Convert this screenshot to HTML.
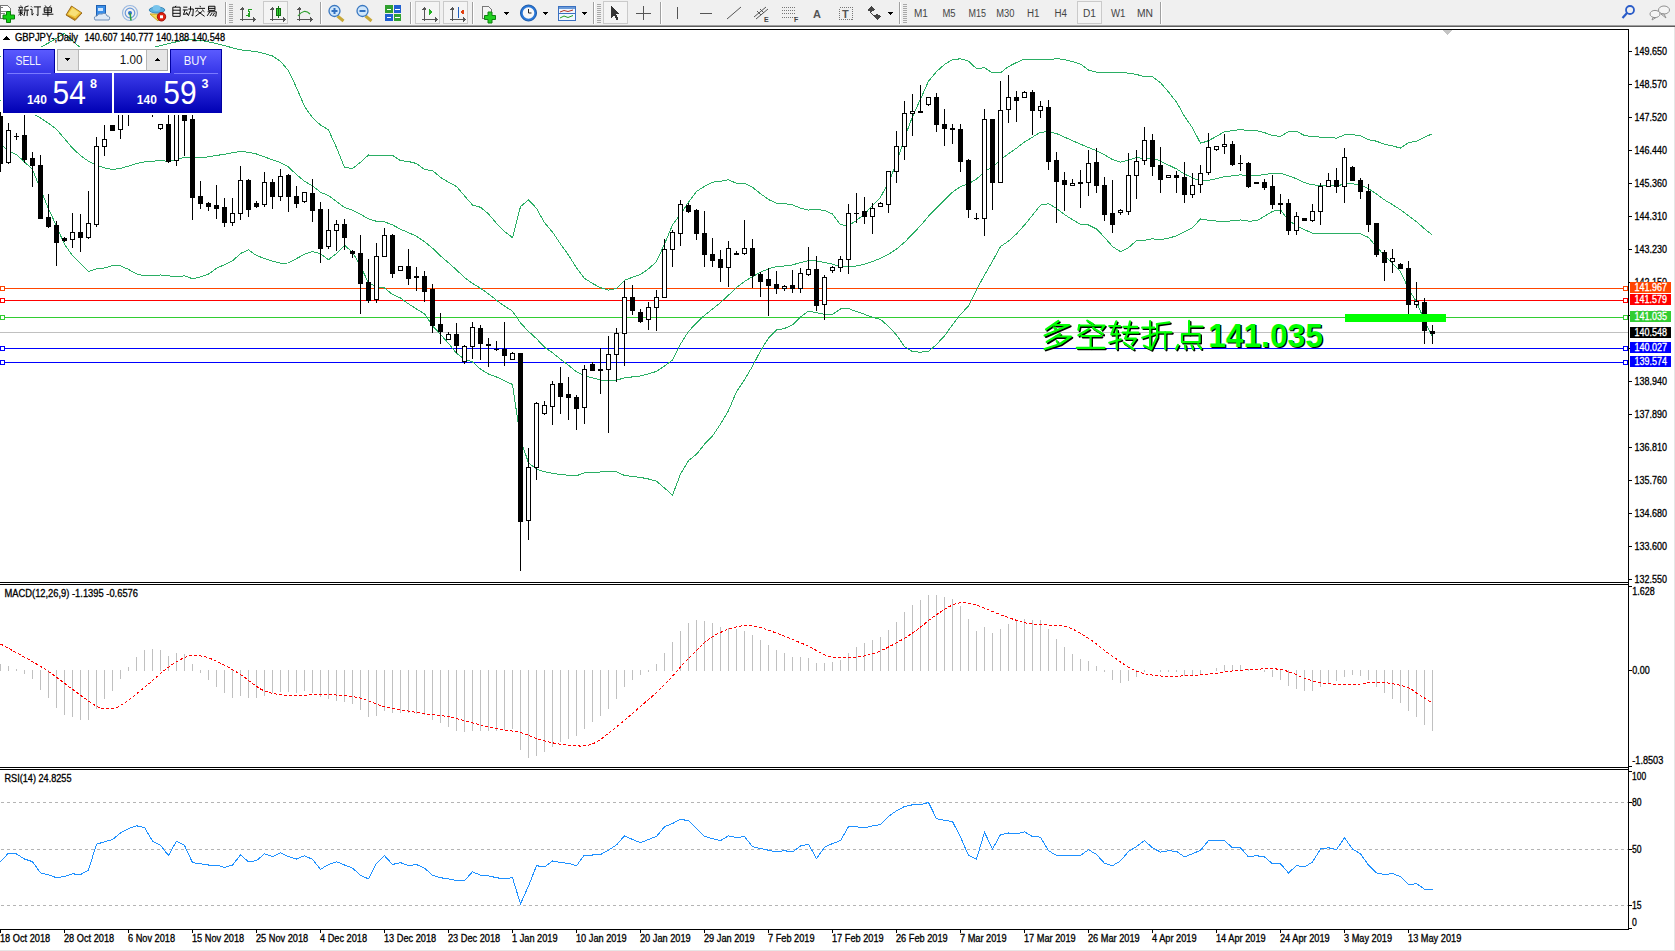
<!DOCTYPE html>
<html><head><meta charset="utf-8"><title>GBPJPY Daily</title>
<style>
html,body{margin:0;padding:0;background:#fff;}
body{width:1675px;height:951px;overflow:hidden;position:relative;font-family:"Liberation Sans",sans-serif;}
svg{position:absolute;left:0;top:0;}
text{font-family:"Liberation Sans",sans-serif;}
</style></head><body>
<svg width="1675" height="951" viewBox="0 0 1675 951" shape-rendering="crispEdges">
<rect x="0" y="0" width="1675" height="25" fill="#f0f0f0"/>
<rect x="0" y="25" width="1675" height="1" fill="#a0a0a0"/>
<rect x="0" y="26" width="1675" height="1" fill="#5c5c5c"/>
<polyline points="20.75,5.50 21.21,6.60" fill="none" stroke="#000" stroke-width="0.95" shape-rendering="geometricPrecision"/>
<polyline points="18.46,7.33 23.04,7.33" fill="none" stroke="#000" stroke-width="0.95" shape-rendering="geometricPrecision"/>
<polyline points="19.38,8.25 20.02,9.35" fill="none" stroke="#000" stroke-width="0.95" shape-rendering="geometricPrecision"/>
<polyline points="22.40,8.25 21.85,9.35" fill="none" stroke="#000" stroke-width="0.95" shape-rendering="geometricPrecision"/>
<polyline points="18.00,10.08 23.50,10.08" fill="none" stroke="#000" stroke-width="0.95" shape-rendering="geometricPrecision"/>
<polyline points="18.46,12.10 23.04,12.10" fill="none" stroke="#000" stroke-width="0.95" shape-rendering="geometricPrecision"/>
<polyline points="20.75,10.08 20.75,16.04" fill="none" stroke="#000" stroke-width="0.95" shape-rendering="geometricPrecision"/>
<polyline points="20.75,12.83 18.46,15.12" fill="none" stroke="#000" stroke-width="0.95" shape-rendering="geometricPrecision"/>
<polyline points="20.93,13.02 23.04,14.67" fill="none" stroke="#000" stroke-width="0.95" shape-rendering="geometricPrecision"/>
<polyline points="28.54,5.96 24.88,7.15" fill="none" stroke="#000" stroke-width="0.95" shape-rendering="geometricPrecision"/>
<polyline points="24.88,7.15 24.88,11.46 23.96,16.04" fill="none" stroke="#000" stroke-width="0.95" shape-rendering="geometricPrecision"/>
<polyline points="24.88,10.08 29.00,10.08" fill="none" stroke="#000" stroke-width="0.95" shape-rendering="geometricPrecision"/>
<polyline points="27.17,10.08 27.17,16.04" fill="none" stroke="#000" stroke-width="0.95" shape-rendering="geometricPrecision"/>
<polyline points="30.93,6.23 32.03,7.33" fill="none" stroke="#000" stroke-width="0.95" shape-rendering="geometricPrecision"/>
<polyline points="30.20,9.35 32.03,9.35 32.03,15.12 33.68,13.57" fill="none" stroke="#000" stroke-width="0.95" shape-rendering="geometricPrecision"/>
<polyline points="33.87,6.88 41.02,6.88" fill="none" stroke="#000" stroke-width="0.95" shape-rendering="geometricPrecision"/>
<polyline points="37.99,6.88 37.99,15.58 36.62,14.67" fill="none" stroke="#000" stroke-width="0.95" shape-rendering="geometricPrecision"/>
<polyline points="45.15,5.50 46.25,6.97" fill="none" stroke="#000" stroke-width="0.95" shape-rendering="geometricPrecision"/>
<polyline points="50.65,5.50 49.55,6.97" fill="none" stroke="#000" stroke-width="0.95" shape-rendering="geometricPrecision"/>
<polyline points="44.23,7.79 51.57,7.79 51.57,12.38 44.23,12.38 44.23,7.79" fill="none" stroke="#000" stroke-width="0.95" shape-rendering="geometricPrecision"/>
<polyline points="44.23,10.08 51.57,10.08" fill="none" stroke="#000" stroke-width="0.95" shape-rendering="geometricPrecision"/>
<polyline points="47.90,7.79 47.90,16.50" fill="none" stroke="#000" stroke-width="0.95" shape-rendering="geometricPrecision"/>
<polyline points="42.40,14.21 53.40,14.21" fill="none" stroke="#000" stroke-width="0.95" shape-rendering="geometricPrecision"/>
<polyline points="176.04,5.80 175.12,7.17" fill="none" stroke="#000" stroke-width="0.95" shape-rendering="geometricPrecision"/>
<polyline points="172.83,7.17 180.17,7.17 180.17,16.34 172.83,16.34 172.83,7.17" fill="none" stroke="#000" stroke-width="0.95" shape-rendering="geometricPrecision"/>
<polyline points="172.83,10.20 180.17,10.20" fill="none" stroke="#000" stroke-width="0.95" shape-rendering="geometricPrecision"/>
<polyline points="172.83,13.32 180.17,13.32" fill="none" stroke="#000" stroke-width="0.95" shape-rendering="geometricPrecision"/>
<polyline points="183.21,7.17 187.33,7.17" fill="none" stroke="#000" stroke-width="0.95" shape-rendering="geometricPrecision"/>
<polyline points="182.75,9.93 187.79,9.93" fill="none" stroke="#000" stroke-width="0.95" shape-rendering="geometricPrecision"/>
<polyline points="185.04,9.93 183.48,14.51 187.33,13.59" fill="none" stroke="#000" stroke-width="0.95" shape-rendering="geometricPrecision"/>
<polyline points="186.42,12.22 187.79,14.97" fill="none" stroke="#000" stroke-width="0.95" shape-rendering="geometricPrecision"/>
<polyline points="188.25,9.01 193.29,9.01 192.83,15.88 191.46,15.15" fill="none" stroke="#000" stroke-width="0.95" shape-rendering="geometricPrecision"/>
<polyline points="190.54,6.26 190.54,10.38 188.25,15.88" fill="none" stroke="#000" stroke-width="0.95" shape-rendering="geometricPrecision"/>
<polyline points="200.00,5.80 200.46,7.17" fill="none" stroke="#000" stroke-width="0.95" shape-rendering="geometricPrecision"/>
<polyline points="194.96,8.37 205.04,8.37" fill="none" stroke="#000" stroke-width="0.95" shape-rendering="geometricPrecision"/>
<polyline points="197.98,9.65 195.60,11.76" fill="none" stroke="#000" stroke-width="0.95" shape-rendering="geometricPrecision"/>
<polyline points="202.02,9.65 204.40,11.76" fill="none" stroke="#000" stroke-width="0.95" shape-rendering="geometricPrecision"/>
<polyline points="197.71,11.30 204.58,16.34" fill="none" stroke="#000" stroke-width="0.95" shape-rendering="geometricPrecision"/>
<polyline points="202.29,11.30 195.42,16.34" fill="none" stroke="#000" stroke-width="0.95" shape-rendering="geometricPrecision"/>
<polyline points="208.54,6.26 214.96,6.26 214.96,10.38 208.54,10.38 208.54,6.26" fill="none" stroke="#000" stroke-width="0.95" shape-rendering="geometricPrecision"/>
<polyline points="208.54,8.37 214.96,8.37" fill="none" stroke="#000" stroke-width="0.95" shape-rendering="geometricPrecision"/>
<polyline points="207.62,11.76 216.33,11.76 215.88,16.34 214.50,15.88" fill="none" stroke="#000" stroke-width="0.95" shape-rendering="geometricPrecision"/>
<polyline points="209.92,11.76 207.17,15.88" fill="none" stroke="#000" stroke-width="0.95" shape-rendering="geometricPrecision"/>
<polyline points="212.21,12.95 209.92,16.07" fill="none" stroke="#000" stroke-width="0.95" shape-rendering="geometricPrecision"/>
<polyline points="214.50,12.95 212.67,16.07" fill="none" stroke="#000" stroke-width="0.95" shape-rendering="geometricPrecision"/>
<path d="M0.5,5.5 H7.5 L10.5,8.5 V18.5 H0.5 Z" fill="#fff" stroke="#777"/>
<rect x="1" y="7" width="2" height="1" fill="#777"/><rect x="1" y="11" width="5" height="1" fill="#888"/><rect x="1" y="13" width="4" height="1" fill="#888"/>
<path d="M6.5,11.5 H10.5 V15 H14.5 V19 H10.5 V22.5 H6.5 V19 H3 V15 H6.5 Z" fill="#12d012" stroke="#0a7a0a" shape-rendering="geometricPrecision"/>
<g shape-rendering="geometricPrecision"><path d="M66,15 L71.5,6 L82,13 L75,20.5 Z" fill="#c88a18" stroke="#8a5a08" stroke-width="0.8"/><path d="M67,14.5 L72,6.8 L81,12.8 L75.5,18.5 Z" fill="#f0c840"/><path d="M68.5,14 L72.5,8 L79,12.5 L75,16.5 Z" fill="#f8e078"/></g>
<rect x="96" y="5" width="9" height="10" fill="#3a8ee8" stroke="#2060b0"/><rect x="98" y="8" width="5" height="3" fill="#cfe6ff"/>
<path d="M95,20 Q93,16 97,16 Q98,13 102,14 Q106,12 107,16 Q111,16 109,20 Z" fill="#dfe9f5" stroke="#6f8fb8" shape-rendering="geometricPrecision"/>
<g fill="none" shape-rendering="geometricPrecision"><circle cx="130" cy="13" r="7.5" stroke="#9ab8e0" stroke-width="1.2"/><circle cx="130" cy="13" r="4.8" stroke="#6a98d8" stroke-width="1.2"/><circle cx="130" cy="13" r="2" fill="#3070d0"/><path d="M130,13 L131,20.5" stroke="#2aa040" stroke-width="1.6"/></g>
<g shape-rendering="geometricPrecision"><path d="M150,14 L158,21 L163,14 Z" fill="#f2dd58" stroke="#c8a020"/><ellipse cx="157" cy="10" rx="7.8" ry="3" fill="#5ab0e0" stroke="#3a88b8"/><ellipse cx="156.5" cy="8" rx="4" ry="3" fill="#78c4ec"/><circle cx="161.5" cy="16.8" r="4.2" fill="#e02010" stroke="#a01008"/><rect x="160" y="15.3" width="3" height="3" fill="#fff"/></g>
<rect x="225" y="2" width="1" height="22" fill="#a0a0a0"/><rect x="226" y="2" width="1" height="22" fill="#ffffff"/>
<rect x="229" y="4" width="4" height="1" fill="#a8a8a8"/><rect x="229" y="6" width="4" height="1" fill="#a8a8a8"/><rect x="229" y="8" width="4" height="1" fill="#a8a8a8"/><rect x="229" y="10" width="4" height="1" fill="#a8a8a8"/><rect x="229" y="12" width="4" height="1" fill="#a8a8a8"/><rect x="229" y="14" width="4" height="1" fill="#a8a8a8"/><rect x="229" y="16" width="4" height="1" fill="#a8a8a8"/><rect x="229" y="18" width="4" height="1" fill="#a8a8a8"/><rect x="229" y="20" width="4" height="1" fill="#a8a8a8"/><rect x="229" y="22" width="4" height="1" fill="#a8a8a8"/>
<g fill="#555"><rect x="242" y="8" width="1" height="13"/><rect x="240" y="19" width="14" height="1"/><path d="M240.5,9.5 L242.5,7 L244.5,9.5 Z"/><path d="M253,17 L255.5,19.5 L253,22 Z"/></g>
<g fill="#20a020"><rect x="248" y="13" width="1" height="4"/><rect x="248" y="9" width="1" height="3"/><rect x="249" y="9" width="3" height="1"/><rect x="246" y="15" width="2" height="1"/><rect x="249" y="11" width="1" height="6"/></g>
<rect x="263.5" y="1.5" width="24" height="22" fill="#f4f4f4" stroke="#cacaca"/>
<g fill="#555"><rect x="272" y="8" width="1" height="13"/><rect x="270" y="19" width="14" height="1"/><path d="M270.5,9.5 L272.5,7 L274.5,9.5 Z"/><path d="M283,17 L285.5,19.5 L283,22 Z"/></g>
<rect x="276.5" y="8.5" width="4" height="7" fill="#30d030" stroke="#107010"/><rect x="278" y="6" width="1" height="12" fill="#107010"/>
<g fill="#555"><rect x="299" y="8" width="1" height="13"/><rect x="297" y="19" width="14" height="1"/><path d="M297.5,9.5 L299.5,7 L301.5,9.5 Z"/><path d="M310,17 L312.5,19.5 L310,22 Z"/></g>
<path d="M298,16 Q304,8 310,14" fill="none" stroke="#30a030" stroke-width="1.2" shape-rendering="geometricPrecision"/>
<rect x="320" y="2" width="1" height="22" fill="#a0a0a0"/><rect x="321" y="2" width="1" height="22" fill="#ffffff"/>
<g shape-rendering="geometricPrecision"><path d="M337.5,16 L343.5,21" stroke="#c8a838" stroke-width="3"/><circle cx="334.5" cy="11" r="5.5" fill="#cfe6fb" stroke="#3a78c0" stroke-width="1.3"/><rect x="331.5" y="10" width="6" height="2" fill="#3070c0"/><rect x="333.5" y="8" width="2" height="6" fill="#3070c0"/></g>
<g shape-rendering="geometricPrecision"><path d="M365.5,16 L371.5,21" stroke="#c8a838" stroke-width="3"/><circle cx="362.5" cy="11" r="5.5" fill="#cfe6fb" stroke="#3a78c0" stroke-width="1.3"/><rect x="359.5" y="10" width="6" height="2" fill="#3070c0"/></g>
<rect x="385" y="5" width="7.5" height="7.5" fill="#30a030"/><rect x="393.5" y="5" width="7.5" height="7.5" fill="#2060d0"/><rect x="385" y="13.5" width="7.5" height="7.5" fill="#2060d0"/><rect x="393.5" y="13.5" width="7.5" height="7.5" fill="#30a030"/>
<g fill="#fff"><rect x="386.5" y="9" width="4.5" height="1"/><rect x="395" y="9" width="4.5" height="1"/><rect x="386.5" y="17" width="4.5" height="1"/><rect x="395" y="17" width="4.5" height="1"/></g>
<rect x="410" y="2" width="1" height="22" fill="#a0a0a0"/><rect x="411" y="2" width="1" height="22" fill="#ffffff"/>
<rect x="415.5" y="1.5" width="24" height="22" fill="#f4f4f4" stroke="#cacaca"/>
<g fill="#555"><rect x="424" y="8" width="1" height="13"/><rect x="422" y="19" width="14" height="1"/><path d="M422.5,9.5 L424.5,7 L426.5,9.5 Z"/><path d="M435,17 L437.5,19.5 L435,22 Z"/></g>
<path d="M429,9 L433,12 L429,15 Z" fill="#20b020"/>
<rect x="443.5" y="1.5" width="24" height="22" fill="#f4f4f4" stroke="#cacaca"/>
<g fill="#555"><rect x="452" y="8" width="1" height="13"/><rect x="450" y="19" width="14" height="1"/><path d="M450.5,9.5 L452.5,7 L454.5,9.5 Z"/><path d="M463,17 L465.5,19.5 L463,22 Z"/></g>
<rect x="458" y="7" width="1" height="11" fill="#2060c0"/><path d="M460,12 L464,9.5 L464,14.5 Z" fill="#e04010"/>
<rect x="472" y="2" width="1" height="22" fill="#a0a0a0"/><rect x="473" y="2" width="1" height="22" fill="#ffffff"/>
<path d="M482.5,6.5 H488.5 L491.5,9.5 V18.5 H482.5 Z" fill="#f4f4f4" stroke="#777"/>
<path d="M488,12 H492 V15.5 H495.5 V19.5 H492 V23 H488 V19.5 H484.5 V15.5 H488 Z" fill="#20d020" stroke="#108010" shape-rendering="geometricPrecision"/>
<path d="M503.5,12 L509.5,12 L506.5,15 Z" fill="#000"/>
<g shape-rendering="geometricPrecision"><circle cx="528.5" cy="13" r="8" fill="#2a78d8" stroke="#1a58a8"/><circle cx="528.5" cy="13" r="5.8" fill="#f8f8f8"/><path d="M528.5,9 V13 H531.5" stroke="#222" fill="none"/></g>
<path d="M542.5,12 L548.5,12 L545.5,15 Z" fill="#000"/>
<rect x="558.5" y="6.5" width="17" height="14" fill="#f0f6ff" stroke="#3a70c0"/><rect x="559" y="7" width="16" height="2" fill="#6a9ad8"/><rect x="559" y="13" width="16" height="1" fill="#3a70c0"/>
<path d="M560,12 L564,10.5 L568,11.5 L573,10" stroke="#b03020" fill="none" shape-rendering="geometricPrecision"/><path d="M560,18 L564,16 L568,17.5 L573,15.5" stroke="#20a020" fill="none" shape-rendering="geometricPrecision"/>
<path d="M581.5,12 L587.5,12 L584.5,15 Z" fill="#000"/>
<rect x="593" y="2" width="1" height="22" fill="#a0a0a0"/><rect x="594" y="2" width="1" height="22" fill="#ffffff"/>
<rect x="597" y="4" width="4" height="1" fill="#a8a8a8"/><rect x="597" y="6" width="4" height="1" fill="#a8a8a8"/><rect x="597" y="8" width="4" height="1" fill="#a8a8a8"/><rect x="597" y="10" width="4" height="1" fill="#a8a8a8"/><rect x="597" y="12" width="4" height="1" fill="#a8a8a8"/><rect x="597" y="14" width="4" height="1" fill="#a8a8a8"/><rect x="597" y="16" width="4" height="1" fill="#a8a8a8"/><rect x="597" y="18" width="4" height="1" fill="#a8a8a8"/><rect x="597" y="20" width="4" height="1" fill="#a8a8a8"/><rect x="597" y="22" width="4" height="1" fill="#a8a8a8"/>
<rect x="603.5" y="1.5" width="24" height="22" fill="#f4f4f4" stroke="#cacaca"/>
<path d="M611,6 L611,18 L614,15 L616.5,20 L618.5,19 L616,14 L620,14 Z" fill="#333"/>
<rect x="643" y="6" width="1" height="14" fill="#555"/><rect x="636" y="13" width="15" height="1" fill="#555"/>
<rect x="660" y="2" width="1" height="22" fill="#a0a0a0"/><rect x="661" y="2" width="1" height="22" fill="#ffffff"/>
<rect x="677" y="7" width="1" height="12" fill="#555"/>
<rect x="700" y="13" width="12" height="1" fill="#555"/>
<path d="M727,19 L741,7" stroke="#555" shape-rendering="geometricPrecision"/>
<g stroke="#555" shape-rendering="geometricPrecision" fill="none"><path d="M754,17 L766,7"/><path d="M756,19 L768,9"/><path d="M757,11 L761,15 M760,9 L764,13"/></g><text x="764" y="22" font-size="7" font-weight="bold" fill="#444">E</text>
<g fill="#777"><rect x="782" y="7" width="1" height="1"/><rect x="784" y="7" width="1" height="1"/><rect x="786" y="7" width="1" height="1"/><rect x="788" y="7" width="1" height="1"/><rect x="790" y="7" width="1" height="1"/><rect x="792" y="7" width="1" height="1"/><rect x="794" y="7" width="1" height="1"/><rect x="782" y="10" width="1" height="1"/><rect x="784" y="10" width="1" height="1"/><rect x="786" y="10" width="1" height="1"/><rect x="788" y="10" width="1" height="1"/><rect x="790" y="10" width="1" height="1"/><rect x="792" y="10" width="1" height="1"/><rect x="794" y="10" width="1" height="1"/><rect x="782" y="13" width="1" height="1"/><rect x="784" y="13" width="1" height="1"/><rect x="786" y="13" width="1" height="1"/><rect x="788" y="13" width="1" height="1"/><rect x="790" y="13" width="1" height="1"/><rect x="792" y="13" width="1" height="1"/><rect x="794" y="13" width="1" height="1"/><rect x="782" y="17" width="1" height="1"/><rect x="784" y="17" width="1" height="1"/><rect x="786" y="17" width="1" height="1"/><rect x="788" y="17" width="1" height="1"/><rect x="790" y="17" width="1" height="1"/><rect x="792" y="17" width="1" height="1"/><rect x="794" y="17" width="1" height="1"/></g><text x="794" y="22" font-size="7" font-weight="bold" fill="#444">F</text>
<text x="813" y="18" font-size="11" font-weight="bold" fill="#555">A</text>
<rect x="839.5" y="7.5" width="13" height="12" fill="none" stroke="#777" stroke-dasharray="1,1"/><text x="842" y="18" font-size="11" font-weight="bold" fill="#555">T</text>
<path d="M867,10 L871,6 L875,10 L871,12 Z M873,16 L877,20 L881,16 L877,14 Z" fill="#444"/><path d="M870,12 L874,16" stroke="#444"/>
<path d="M887,12 L893,12 L890,15 Z" fill="#000"/>
<rect x="899" y="2" width="1" height="22" fill="#a0a0a0"/><rect x="900" y="2" width="1" height="22" fill="#ffffff"/>
<rect x="903" y="4" width="4" height="1" fill="#a8a8a8"/><rect x="903" y="6" width="4" height="1" fill="#a8a8a8"/><rect x="903" y="8" width="4" height="1" fill="#a8a8a8"/><rect x="903" y="10" width="4" height="1" fill="#a8a8a8"/><rect x="903" y="12" width="4" height="1" fill="#a8a8a8"/><rect x="903" y="14" width="4" height="1" fill="#a8a8a8"/><rect x="903" y="16" width="4" height="1" fill="#a8a8a8"/><rect x="903" y="18" width="4" height="1" fill="#a8a8a8"/><rect x="903" y="20" width="4" height="1" fill="#a8a8a8"/><rect x="903" y="22" width="4" height="1" fill="#a8a8a8"/>
<rect x="1077.5" y="1.5" width="24" height="22" fill="#f4f4f4" stroke="#cacaca"/>
<text x="914" y="17" font-size="10" fill="#444" textLength="13.9" lengthAdjust="spacingAndGlyphs">M1</text>
<text x="942.4" y="17" font-size="10" fill="#444" textLength="13.1" lengthAdjust="spacingAndGlyphs">M5</text>
<text x="968.5" y="17" font-size="10" fill="#444" textLength="17.5" lengthAdjust="spacingAndGlyphs">M15</text>
<text x="996.3" y="17" font-size="10" fill="#444" textLength="18.1" lengthAdjust="spacingAndGlyphs">M30</text>
<text x="1027" y="17" font-size="10" fill="#444" textLength="12.5" lengthAdjust="spacingAndGlyphs">H1</text>
<text x="1054.5" y="17" font-size="10" fill="#444" textLength="12.5" lengthAdjust="spacingAndGlyphs">H4</text>
<text x="1083" y="17" font-size="10" fill="#444" textLength="13" lengthAdjust="spacingAndGlyphs">D1</text>
<text x="1111" y="17" font-size="10" fill="#444" textLength="14.5" lengthAdjust="spacingAndGlyphs">W1</text>
<text x="1137" y="17" font-size="10" fill="#444" textLength="16" lengthAdjust="spacingAndGlyphs">MN</text>
<rect x="1160" y="2" width="1" height="22" fill="#a0a0a0"/><rect x="1161" y="2" width="1" height="22" fill="#ffffff"/>
<g shape-rendering="geometricPrecision"><circle cx="1630" cy="10" r="4" fill="none" stroke="#2a5cc8" stroke-width="1.8"/><path d="M1627,13 L1622.5,18" stroke="#2a5cc8" stroke-width="2.2"/></g>
<g shape-rendering="geometricPrecision" fill="#f4f4f4" stroke="#909090"><ellipse cx="1664" cy="10" rx="5.5" ry="4"/><path d="M1664,14 L1666,18 L1661,14 Z"/><ellipse cx="1655" cy="14" rx="5" ry="3.6"/><path d="M1653,17.5 L1652,20 L1656,17.5 Z"/></g>
<rect x="1674" y="27" width="1" height="924" fill="#e6e6e6"/>
<rect x="0" y="950" width="1675" height="1" fill="#e6e6e6"/>
<rect x="0" y="29" width="1629" height="1" fill="#000"/>
<rect x="0" y="582" width="1629" height="1" fill="#000"/>
<rect x="0" y="584" width="1629" height="1" fill="#000"/>
<rect x="0" y="767" width="1629" height="1" fill="#000"/>
<rect x="0" y="769" width="1629" height="1" fill="#000"/>
<rect x="0" y="929" width="1629" height="1" fill="#000"/>
<rect x="1628" y="29" width="1" height="901" fill="#000"/>
<rect x="1629" y="51" width="3" height="1" fill="#000"/>
<text x="1634.5" y="55" font-size="10" fill="#000" stroke="#000" stroke-width="0.3" font-weight="normal" text-anchor="start" textLength="32.4" lengthAdjust="spacingAndGlyphs" >149.650</text>
<rect x="1629" y="84" width="3" height="1" fill="#000"/>
<text x="1634.5" y="88" font-size="10" fill="#000" stroke="#000" stroke-width="0.3" font-weight="normal" text-anchor="start" textLength="32.4" lengthAdjust="spacingAndGlyphs" >148.570</text>
<rect x="1629" y="117" width="3" height="1" fill="#000"/>
<text x="1634.5" y="121" font-size="10" fill="#000" stroke="#000" stroke-width="0.3" font-weight="normal" text-anchor="start" textLength="32.4" lengthAdjust="spacingAndGlyphs" >147.520</text>
<rect x="1629" y="150" width="3" height="1" fill="#000"/>
<text x="1634.5" y="154" font-size="10" fill="#000" stroke="#000" stroke-width="0.3" font-weight="normal" text-anchor="start" textLength="32.4" lengthAdjust="spacingAndGlyphs" >146.440</text>
<rect x="1629" y="183" width="3" height="1" fill="#000"/>
<text x="1634.5" y="187" font-size="10" fill="#000" stroke="#000" stroke-width="0.3" font-weight="normal" text-anchor="start" textLength="32.4" lengthAdjust="spacingAndGlyphs" >145.360</text>
<rect x="1629" y="216" width="3" height="1" fill="#000"/>
<text x="1634.5" y="220" font-size="10" fill="#000" stroke="#000" stroke-width="0.3" font-weight="normal" text-anchor="start" textLength="32.4" lengthAdjust="spacingAndGlyphs" >144.310</text>
<rect x="1629" y="249" width="3" height="1" fill="#000"/>
<text x="1634.5" y="253" font-size="10" fill="#000" stroke="#000" stroke-width="0.3" font-weight="normal" text-anchor="start" textLength="32.4" lengthAdjust="spacingAndGlyphs" >143.230</text>
<rect x="1629" y="282" width="3" height="1" fill="#000"/>
<text x="1634.5" y="286" font-size="10" fill="#000" stroke="#000" stroke-width="0.3" font-weight="normal" text-anchor="start" textLength="32.4" lengthAdjust="spacingAndGlyphs" >142.150</text>
<rect x="1629" y="315" width="3" height="1" fill="#000"/>
<text x="1634.5" y="319" font-size="10" fill="#000" stroke="#000" stroke-width="0.3" font-weight="normal" text-anchor="start" textLength="32.4" lengthAdjust="spacingAndGlyphs" >141.070</text>
<rect x="1629" y="348" width="3" height="1" fill="#000"/>
<text x="1634.5" y="352" font-size="10" fill="#000" stroke="#000" stroke-width="0.3" font-weight="normal" text-anchor="start" textLength="32.4" lengthAdjust="spacingAndGlyphs" >140.020</text>
<rect x="1629" y="381" width="3" height="1" fill="#000"/>
<text x="1634.5" y="385" font-size="10" fill="#000" stroke="#000" stroke-width="0.3" font-weight="normal" text-anchor="start" textLength="32.4" lengthAdjust="spacingAndGlyphs" >138.940</text>
<rect x="1629" y="414" width="3" height="1" fill="#000"/>
<text x="1634.5" y="418" font-size="10" fill="#000" stroke="#000" stroke-width="0.3" font-weight="normal" text-anchor="start" textLength="32.4" lengthAdjust="spacingAndGlyphs" >137.890</text>
<rect x="1629" y="447" width="3" height="1" fill="#000"/>
<text x="1634.5" y="451" font-size="10" fill="#000" stroke="#000" stroke-width="0.3" font-weight="normal" text-anchor="start" textLength="32.4" lengthAdjust="spacingAndGlyphs" >136.810</text>
<rect x="1629" y="480" width="3" height="1" fill="#000"/>
<text x="1634.5" y="484" font-size="10" fill="#000" stroke="#000" stroke-width="0.3" font-weight="normal" text-anchor="start" textLength="32.4" lengthAdjust="spacingAndGlyphs" >135.760</text>
<rect x="1629" y="513" width="3" height="1" fill="#000"/>
<text x="1634.5" y="517" font-size="10" fill="#000" stroke="#000" stroke-width="0.3" font-weight="normal" text-anchor="start" textLength="32.4" lengthAdjust="spacingAndGlyphs" >134.680</text>
<rect x="1629" y="546" width="3" height="1" fill="#000"/>
<text x="1634.5" y="550" font-size="10" fill="#000" stroke="#000" stroke-width="0.3" font-weight="normal" text-anchor="start" textLength="32.4" lengthAdjust="spacingAndGlyphs" >133.600</text>
<rect x="1629" y="579" width="3" height="1" fill="#000"/>
<text x="1634.5" y="583" font-size="10" fill="#000" stroke="#000" stroke-width="0.3" font-weight="normal" text-anchor="start" textLength="32.4" lengthAdjust="spacingAndGlyphs" >132.550</text>
<defs><clipPath id="cm"><rect x="0" y="30" width="1628" height="552"/></clipPath><clipPath id="cmacd"><rect x="0" y="585" width="1628" height="182"/></clipPath><clipPath id="crsi"><rect x="0" y="770" width="1628" height="159"/></clipPath></defs>
<g clip-path="url(#cm)">
<rect x="0" y="332" width="1628" height="1" fill="#c0c0c0"/>
<rect x="0" y="288" width="1628" height="1" fill="#ff4500"/>
<rect x="1623.5" y="286.5" width="4" height="4" fill="#fff" stroke="#ff4500" stroke-width="1"/>
<rect x="0.5" y="286.5" width="4" height="4" fill="#fff" stroke="#ff4500" stroke-width="1"/>
<rect x="0" y="300" width="1628" height="1" fill="#ff0000"/>
<rect x="1623.5" y="298.5" width="4" height="4" fill="#fff" stroke="#ff0000" stroke-width="1"/>
<rect x="0.5" y="298.5" width="4" height="4" fill="#fff" stroke="#ff0000" stroke-width="1"/>
<rect x="0" y="317" width="1628" height="1" fill="#32cd32"/>
<rect x="1623.5" y="315.5" width="4" height="4" fill="#fff" stroke="#32cd32" stroke-width="1"/>
<rect x="0.5" y="315.5" width="4" height="4" fill="#fff" stroke="#32cd32" stroke-width="1"/>
<rect x="0" y="348" width="1628" height="1" fill="#0000ff"/>
<rect x="1623.5" y="346.5" width="4" height="4" fill="#fff" stroke="#0000ff" stroke-width="1"/>
<rect x="0.5" y="346.5" width="4" height="4" fill="#fff" stroke="#0000ff" stroke-width="1"/>
<rect x="0" y="362" width="1628" height="1" fill="#0000ff"/>
<rect x="1623.5" y="360.5" width="4" height="4" fill="#fff" stroke="#0000ff" stroke-width="1"/>
<rect x="0.5" y="360.5" width="4" height="4" fill="#fff" stroke="#0000ff" stroke-width="1"/>
<polyline points="0.5,56.5 8.5,54.7 16.5,52.8 24.5,51.0 32.5,49.2 40.5,47.3 48.5,43.0 56.5,38.2 64.5,33.5 72.5,40.8 80.5,47.8 88.5,53.7 96.5,59.6 104.5,62.5 112.5,62.5 120.5,62.5 128.5,62.5 136.5,58.5 144.5,53.1 152.5,47.8 160.5,45.5 168.5,43.6 176.5,41.8 184.5,40.0 192.5,39.8 200.5,40.3 208.5,41.9 216.5,43.6 224.5,45.7 232.5,47.8 240.5,49.9 248.5,50.7 256.5,51.6 264.5,53.6 272.5,55.9 280.5,61.4 288.5,70.6 296.5,87.7 304.5,106.4 312.5,117.7 320.5,125.0 328.5,129.9 336.5,147.5 344.5,167.5 352.5,168.5 360.5,162.3 368.5,155.0 376.5,155.6 384.5,155.9 392.5,155.4 400.5,160.6 408.5,161.5 416.5,163.5 424.5,169.6 432.5,170.5 440.5,177.4 448.5,182.2 456.5,186.5 464.5,195.8 472.5,205.0 480.5,207.3 488.5,213.9 496.5,223.4 504.5,231.4 512.5,237.7 520.5,206.7 528.5,199.8 536.5,208.3 544.5,222.7 552.5,232.1 560.5,244.0 568.5,255.1 576.5,267.8 584.5,278.4 592.5,283.4 600.5,287.7 608.5,290.2 616.5,288.6 624.5,280.2 632.5,277.3 640.5,274.3 648.5,268.9 656.5,261.5 664.5,244.1 672.5,224.9 680.5,214.2 688.5,202.1 696.5,191.4 704.5,186.4 712.5,182.2 720.5,181.2 728.5,179.8 736.5,183.3 744.5,183.1 752.5,187.3 760.5,193.7 768.5,199.5 776.5,203.2 784.5,203.5 792.5,204.9 800.5,208.1 808.5,210.1 816.5,209.3 824.5,210.5 832.5,214.0 840.5,224.8 848.5,225.4 856.5,220.5 864.5,213.9 872.5,205.7 880.5,197.2 888.5,182.6 896.5,163.1 904.5,138.0 912.5,116.6 920.5,99.1 928.5,81.2 936.5,71.6 944.5,64.5 952.5,59.6 960.5,58.8 968.5,61.1 976.5,68.7 984.5,67.7 992.5,73.0 1000.5,72.7 1008.5,66.6 1016.5,62.5 1024.5,59.0 1032.5,59.0 1040.5,59.4 1048.5,59.8 1056.5,58.6 1064.5,59.6 1072.5,61.6 1080.5,64.1 1088.5,70.0 1096.5,72.1 1104.5,72.4 1112.5,72.7 1120.5,72.4 1128.5,73.1 1136.5,74.4 1144.5,76.9 1152.5,76.7 1160.5,82.7 1168.5,92.0 1176.5,102.1 1184.5,116.3 1192.5,127.9 1200.5,143.3 1208.5,140.7 1216.5,136.3 1224.5,131.8 1232.5,130.7 1240.5,129.5 1248.5,130.7 1256.5,130.7 1264.5,132.6 1272.5,135.6 1280.5,136.4 1288.5,131.5 1296.5,131.4 1304.5,135.5 1312.5,136.7 1320.5,137.1 1328.5,137.5 1336.5,138.1 1344.5,134.9 1352.5,134.6 1360.5,135.7 1368.5,139.7 1376.5,141.2 1384.5,144.3 1392.5,145.9 1400.5,148.1 1408.5,142.6 1416.5,141.2 1424.5,137.1 1432.5,133.7" fill="none" stroke="#2aae64" stroke-width="1" shape-rendering="crispEdges"/>
<polyline points="0.5,100.5 8.5,103.8 16.5,107.1 24.5,110.4 32.5,113.6 40.5,118.0 48.5,123.3 56.5,129.3 64.5,138.7 72.5,148.1 80.5,155.6 88.5,161.3 96.5,165.3 104.5,167.9 112.5,169.6 120.5,168.3 128.5,166.2 136.5,163.5 144.5,162.0 152.5,161.3 160.5,160.5 168.5,161.5 176.5,159.3 184.5,157.4 192.5,157.9 200.5,158.0 208.5,156.8 216.5,155.5 224.5,154.2 232.5,152.8 240.5,151.4 248.5,152.3 256.5,154.0 264.5,156.9 272.5,159.9 280.5,162.6 288.5,166.9 296.5,174.7 304.5,181.2 312.5,185.9 320.5,192.2 328.5,195.6 336.5,201.6 344.5,207.4 352.5,210.2 360.5,214.2 368.5,218.9 376.5,221.3 384.5,221.9 392.5,224.9 400.5,229.2 408.5,232.7 416.5,236.2 424.5,241.7 432.5,248.2 440.5,255.9 448.5,262.8 456.5,269.9 464.5,277.6 472.5,283.4 480.5,288.2 488.5,293.9 496.5,300.2 504.5,306.1 512.5,311.1 520.5,323.0 528.5,331.4 536.5,338.7 544.5,347.2 552.5,352.8 560.5,359.2 568.5,365.2 576.5,371.8 584.5,375.6 592.5,377.9 600.5,379.9 608.5,380.9 616.5,380.2 624.5,377.8 632.5,376.9 640.5,375.9 648.5,373.9 656.5,371.4 664.5,366.1 672.5,360.0 680.5,344.1 688.5,331.4 696.5,322.9 704.5,315.3 712.5,309.1 720.5,302.6 728.5,295.2 736.5,287.5 744.5,281.4 752.5,276.7 760.5,272.2 768.5,268.8 776.5,266.6 784.5,266.0 792.5,264.9 800.5,262.5 808.5,260.6 816.5,261.0 824.5,262.4 832.5,264.1 840.5,266.9 848.5,267.0 856.5,266.0 864.5,264.1 872.5,261.5 880.5,258.3 888.5,254.4 896.5,249.1 904.5,242.3 912.5,234.1 920.5,225.7 928.5,216.2 936.5,208.1 944.5,200.2 952.5,192.2 960.5,186.6 968.5,183.6 976.5,179.2 984.5,171.3 992.5,167.1 1000.5,159.7 1008.5,153.8 1016.5,148.2 1024.5,142.0 1032.5,137.1 1040.5,132.2 1048.5,131.8 1056.5,133.5 1064.5,137.1 1072.5,140.7 1080.5,144.2 1088.5,147.5 1096.5,150.6 1104.5,154.8 1112.5,159.6 1120.5,162.1 1128.5,160.3 1136.5,157.5 1144.5,158.6 1152.5,157.8 1160.5,161.2 1168.5,165.1 1176.5,168.9 1184.5,174.1 1192.5,177.8 1200.5,181.2 1208.5,180.4 1216.5,178.7 1224.5,176.7 1232.5,175.8 1240.5,174.8 1248.5,175.9 1256.5,175.8 1264.5,174.4 1272.5,173.4 1280.5,173.2 1288.5,175.9 1296.5,178.7 1304.5,182.7 1312.5,184.9 1320.5,185.2 1328.5,185.5 1336.5,185.9 1344.5,184.1 1352.5,183.8 1360.5,184.8 1368.5,188.6 1376.5,194.0 1384.5,199.9 1392.5,204.6 1400.5,209.8 1408.5,215.8 1416.5,221.7 1424.5,228.8 1432.5,235.2" fill="none" stroke="#2aae64" stroke-width="1" shape-rendering="crispEdges"/>
<polyline points="0.5,144.5 8.5,150.6 16.5,154.6 24.5,161.9 32.5,169.5 40.5,189.4 48.5,208.6 56.5,226.2 64.5,244.4 72.5,255.5 80.5,263.5 88.5,271.4 96.5,268.9 104.5,268.0 112.5,265.5 120.5,265.8 128.5,269.4 136.5,273.9 144.5,275.9 152.5,275.9 160.5,275.0 168.5,275.8 176.5,276.7 184.5,275.9 192.5,278.7 200.5,277.0 208.5,274.1 216.5,268.3 224.5,264.6 232.5,260.9 240.5,253.5 248.5,249.8 256.5,255.6 264.5,258.4 272.5,261.3 280.5,263.1 288.5,263.0 296.5,258.6 304.5,254.2 312.5,251.6 320.5,253.8 328.5,259.7 336.5,253.4 344.5,245.3 352.5,252.2 360.5,266.1 368.5,282.8 376.5,287.0 384.5,288.0 392.5,294.5 400.5,297.9 408.5,303.9 416.5,309.0 424.5,313.8 432.5,325.8 440.5,334.4 448.5,343.4 456.5,353.3 464.5,359.4 472.5,361.9 480.5,369.1 488.5,374.0 496.5,377.0 504.5,380.8 512.5,384.5 520.5,439.3 528.5,462.9 536.5,469.1 544.5,471.7 552.5,473.4 560.5,474.5 568.5,475.3 576.5,475.7 584.5,472.9 592.5,472.4 600.5,472.0 608.5,471.5 616.5,471.9 624.5,475.4 632.5,476.6 640.5,477.4 648.5,479.0 656.5,481.2 664.5,488.0 672.5,495.1 680.5,474.1 688.5,460.6 696.5,454.3 704.5,444.2 712.5,436.0 720.5,424.1 728.5,410.6 736.5,391.7 744.5,379.8 752.5,366.1 760.5,350.8 768.5,338.1 776.5,329.9 784.5,328.5 792.5,324.9 800.5,316.9 808.5,311.1 816.5,312.7 824.5,314.3 832.5,314.3 840.5,309.0 848.5,308.6 856.5,311.5 864.5,314.3 872.5,317.3 880.5,319.4 888.5,326.3 896.5,335.0 904.5,346.6 912.5,351.6 920.5,352.2 928.5,351.3 936.5,344.5 944.5,335.8 952.5,324.8 960.5,314.4 968.5,306.1 976.5,289.8 984.5,275.0 992.5,261.2 1000.5,246.6 1008.5,241.1 1016.5,233.9 1024.5,225.0 1032.5,215.2 1040.5,205.1 1048.5,203.7 1056.5,208.4 1064.5,214.5 1072.5,219.7 1080.5,224.3 1088.5,225.0 1096.5,229.0 1104.5,237.3 1112.5,246.5 1120.5,251.7 1128.5,247.6 1136.5,240.6 1144.5,240.2 1152.5,238.8 1160.5,239.7 1168.5,238.2 1176.5,235.8 1184.5,231.8 1192.5,227.7 1200.5,219.0 1208.5,220.2 1216.5,221.1 1224.5,221.6 1232.5,220.8 1240.5,220.0 1248.5,221.1 1256.5,220.9 1264.5,216.3 1272.5,211.3 1280.5,209.9 1288.5,220.3 1296.5,225.9 1304.5,229.8 1312.5,233.1 1320.5,233.4 1328.5,233.5 1336.5,233.8 1344.5,233.3 1352.5,233.1 1360.5,233.8 1368.5,237.5 1376.5,246.8 1384.5,255.5 1392.5,263.3 1400.5,271.6 1408.5,288.9 1416.5,302.1 1424.5,320.5 1432.5,336.8" fill="none" stroke="#2aae64" stroke-width="1" shape-rendering="crispEdges"/>
<rect x="0" y="112" width="1" height="60" fill="#000"/>
<rect x="-2" y="116" width="5" height="48" fill="#000"/>
<rect x="8" y="123" width="1" height="41" fill="#000"/>
<rect x="6" y="130" width="5" height="33" fill="#000"/>
<rect x="7" y="131" width="3" height="31" fill="#fff"/>
<rect x="16" y="133" width="1" height="7" fill="#000"/>
<rect x="14" y="136" width="5" height="1" fill="#000"/>
<rect x="24" y="115" width="1" height="48" fill="#000"/>
<rect x="22" y="135" width="5" height="25" fill="#000"/>
<rect x="32" y="152" width="1" height="35" fill="#000"/>
<rect x="30" y="158" width="5" height="8" fill="#000"/>
<rect x="40" y="155" width="1" height="64" fill="#000"/>
<rect x="38" y="165" width="5" height="54" fill="#000"/>
<rect x="48" y="194" width="1" height="34" fill="#000"/>
<rect x="46" y="217" width="5" height="10" fill="#000"/>
<rect x="56" y="221" width="1" height="45" fill="#000"/>
<rect x="54" y="225" width="5" height="18" fill="#000"/>
<rect x="64" y="237" width="1" height="5" fill="#000"/>
<rect x="62" y="238" width="5" height="3" fill="#000"/>
<rect x="72" y="213" width="1" height="35" fill="#000"/>
<rect x="70" y="232" width="5" height="8" fill="#000"/>
<rect x="71" y="233" width="3" height="6" fill="#fff"/>
<rect x="80" y="214" width="1" height="38" fill="#000"/>
<rect x="78" y="232" width="5" height="6" fill="#000"/>
<rect x="88" y="191" width="1" height="48" fill="#000"/>
<rect x="86" y="223" width="5" height="15" fill="#000"/>
<rect x="87" y="224" width="3" height="13" fill="#fff"/>
<rect x="96" y="137" width="1" height="90" fill="#000"/>
<rect x="94" y="146" width="5" height="79" fill="#000"/>
<rect x="95" y="147" width="3" height="77" fill="#fff"/>
<rect x="104" y="125" width="1" height="31" fill="#000"/>
<rect x="102" y="139" width="5" height="8" fill="#000"/>
<rect x="103" y="140" width="3" height="6" fill="#fff"/>
<rect x="112" y="125" width="1" height="6" fill="#000"/>
<rect x="110" y="125" width="5" height="6" fill="#000"/>
<rect x="120" y="95" width="1" height="44" fill="#000"/>
<rect x="118" y="105" width="5" height="25" fill="#000"/>
<rect x="119" y="106" width="3" height="23" fill="#fff"/>
<rect x="128" y="90" width="1" height="36" fill="#000"/>
<rect x="126" y="100" width="5" height="6" fill="#000"/>
<rect x="127" y="101" width="3" height="4" fill="#fff"/>
<rect x="136" y="88" width="1" height="21" fill="#000"/>
<rect x="134" y="95" width="5" height="6" fill="#000"/>
<rect x="135" y="96" width="3" height="4" fill="#fff"/>
<rect x="144" y="90" width="1" height="21" fill="#000"/>
<rect x="142" y="95" width="5" height="8" fill="#000"/>
<rect x="152" y="95" width="1" height="22" fill="#000"/>
<rect x="150" y="102" width="5" height="9" fill="#000"/>
<rect x="160" y="124" width="1" height="6" fill="#000"/>
<rect x="158" y="124" width="5" height="5" fill="#000"/>
<rect x="159" y="125" width="3" height="3" fill="#fff"/>
<rect x="168" y="115" width="1" height="48" fill="#000"/>
<rect x="166" y="124" width="5" height="38" fill="#000"/>
<rect x="176" y="100" width="1" height="66" fill="#000"/>
<rect x="174" y="105" width="5" height="56" fill="#000"/>
<rect x="175" y="106" width="3" height="54" fill="#fff"/>
<rect x="184" y="100" width="1" height="56" fill="#000"/>
<rect x="182" y="105" width="5" height="16" fill="#000"/>
<rect x="192" y="112" width="1" height="108" fill="#000"/>
<rect x="190" y="119" width="5" height="79" fill="#000"/>
<rect x="200" y="181" width="1" height="28" fill="#000"/>
<rect x="198" y="196" width="5" height="8" fill="#000"/>
<rect x="208" y="202" width="1" height="9" fill="#000"/>
<rect x="206" y="203" width="5" height="4" fill="#000"/>
<rect x="216" y="185" width="1" height="34" fill="#000"/>
<rect x="214" y="205" width="5" height="4" fill="#000"/>
<rect x="224" y="198" width="1" height="29" fill="#000"/>
<rect x="222" y="207" width="5" height="16" fill="#000"/>
<rect x="232" y="198" width="1" height="28" fill="#000"/>
<rect x="230" y="213" width="5" height="10" fill="#000"/>
<rect x="231" y="214" width="3" height="8" fill="#fff"/>
<rect x="240" y="166" width="1" height="54" fill="#000"/>
<rect x="238" y="180" width="5" height="34" fill="#000"/>
<rect x="239" y="181" width="3" height="32" fill="#fff"/>
<rect x="248" y="179" width="1" height="38" fill="#000"/>
<rect x="246" y="180" width="5" height="30" fill="#000"/>
<rect x="256" y="201" width="1" height="7" fill="#000"/>
<rect x="254" y="203" width="5" height="4" fill="#000"/>
<rect x="264" y="172" width="1" height="35" fill="#000"/>
<rect x="262" y="182" width="5" height="23" fill="#000"/>
<rect x="263" y="183" width="3" height="21" fill="#fff"/>
<rect x="272" y="179" width="1" height="30" fill="#000"/>
<rect x="270" y="182" width="5" height="15" fill="#000"/>
<rect x="280" y="169" width="1" height="32" fill="#000"/>
<rect x="278" y="176" width="5" height="21" fill="#000"/>
<rect x="279" y="177" width="3" height="19" fill="#fff"/>
<rect x="288" y="174" width="1" height="38" fill="#000"/>
<rect x="286" y="175" width="5" height="22" fill="#000"/>
<rect x="296" y="186" width="1" height="22" fill="#000"/>
<rect x="294" y="196" width="5" height="8" fill="#000"/>
<rect x="304" y="192" width="1" height="11" fill="#000"/>
<rect x="302" y="192" width="5" height="10" fill="#000"/>
<rect x="303" y="193" width="3" height="8" fill="#fff"/>
<rect x="312" y="179" width="1" height="43" fill="#000"/>
<rect x="310" y="193" width="5" height="18" fill="#000"/>
<rect x="320" y="202" width="1" height="61" fill="#000"/>
<rect x="318" y="209" width="5" height="40" fill="#000"/>
<rect x="328" y="209" width="1" height="40" fill="#000"/>
<rect x="326" y="230" width="5" height="17" fill="#000"/>
<rect x="327" y="231" width="3" height="15" fill="#fff"/>
<rect x="336" y="220" width="1" height="31" fill="#000"/>
<rect x="334" y="224" width="5" height="7" fill="#000"/>
<rect x="335" y="225" width="3" height="5" fill="#fff"/>
<rect x="344" y="219" width="1" height="31" fill="#000"/>
<rect x="342" y="224" width="5" height="14" fill="#000"/>
<rect x="352" y="250" width="1" height="8" fill="#000"/>
<rect x="350" y="251" width="5" height="3" fill="#000"/>
<rect x="360" y="235" width="1" height="79" fill="#000"/>
<rect x="358" y="253" width="5" height="31" fill="#000"/>
<rect x="368" y="259" width="1" height="44" fill="#000"/>
<rect x="366" y="282" width="5" height="19" fill="#000"/>
<rect x="376" y="243" width="1" height="60" fill="#000"/>
<rect x="374" y="256" width="5" height="44" fill="#000"/>
<rect x="375" y="257" width="3" height="42" fill="#fff"/>
<rect x="384" y="228" width="1" height="29" fill="#000"/>
<rect x="382" y="235" width="5" height="22" fill="#000"/>
<rect x="383" y="236" width="3" height="20" fill="#fff"/>
<rect x="392" y="234" width="1" height="44" fill="#000"/>
<rect x="390" y="235" width="5" height="39" fill="#000"/>
<rect x="400" y="266" width="1" height="5" fill="#000"/>
<rect x="398" y="266" width="5" height="5" fill="#000"/>
<rect x="399" y="267" width="3" height="3" fill="#fff"/>
<rect x="408" y="249" width="1" height="36" fill="#000"/>
<rect x="406" y="266" width="5" height="13" fill="#000"/>
<rect x="416" y="267" width="1" height="24" fill="#000"/>
<rect x="414" y="276" width="5" height="2" fill="#000"/>
<rect x="424" y="271" width="1" height="31" fill="#000"/>
<rect x="422" y="276" width="5" height="16" fill="#000"/>
<rect x="432" y="284" width="1" height="49" fill="#000"/>
<rect x="430" y="289" width="5" height="37" fill="#000"/>
<rect x="440" y="313" width="1" height="31" fill="#000"/>
<rect x="438" y="324" width="5" height="8" fill="#000"/>
<rect x="448" y="332" width="1" height="8" fill="#000"/>
<rect x="446" y="334" width="5" height="6" fill="#000"/>
<rect x="447" y="335" width="3" height="4" fill="#fff"/>
<rect x="456" y="323" width="1" height="30" fill="#000"/>
<rect x="454" y="334" width="5" height="12" fill="#000"/>
<rect x="464" y="345" width="1" height="19" fill="#000"/>
<rect x="462" y="346" width="5" height="16" fill="#000"/>
<rect x="463" y="347" width="3" height="14" fill="#fff"/>
<rect x="472" y="322" width="1" height="37" fill="#000"/>
<rect x="470" y="327" width="5" height="20" fill="#000"/>
<rect x="471" y="328" width="3" height="18" fill="#fff"/>
<rect x="480" y="325" width="1" height="35" fill="#000"/>
<rect x="478" y="328" width="5" height="16" fill="#000"/>
<rect x="488" y="338" width="1" height="29" fill="#000"/>
<rect x="486" y="344" width="5" height="2" fill="#000"/>
<rect x="496" y="341" width="1" height="10" fill="#000"/>
<rect x="494" y="349" width="5" height="1" fill="#000"/>
<rect x="504" y="322" width="1" height="44" fill="#000"/>
<rect x="502" y="349" width="5" height="7" fill="#000"/>
<rect x="512" y="352" width="1" height="8" fill="#000"/>
<rect x="510" y="353" width="5" height="7" fill="#000"/>
<rect x="511" y="354" width="3" height="5" fill="#fff"/>
<rect x="520" y="353" width="1" height="218" fill="#000"/>
<rect x="518" y="353" width="5" height="169" fill="#000"/>
<rect x="528" y="448" width="1" height="92" fill="#000"/>
<rect x="526" y="467" width="5" height="54" fill="#000"/>
<rect x="527" y="468" width="3" height="52" fill="#fff"/>
<rect x="536" y="402" width="1" height="78" fill="#000"/>
<rect x="534" y="403" width="5" height="65" fill="#000"/>
<rect x="535" y="404" width="3" height="63" fill="#fff"/>
<rect x="544" y="401" width="1" height="14" fill="#000"/>
<rect x="542" y="405" width="5" height="9" fill="#000"/>
<rect x="543" y="406" width="3" height="7" fill="#fff"/>
<rect x="552" y="381" width="1" height="44" fill="#000"/>
<rect x="550" y="384" width="5" height="23" fill="#000"/>
<rect x="551" y="385" width="3" height="21" fill="#fff"/>
<rect x="560" y="367" width="1" height="47" fill="#000"/>
<rect x="558" y="383" width="5" height="14" fill="#000"/>
<rect x="568" y="377" width="1" height="43" fill="#000"/>
<rect x="566" y="394" width="5" height="4" fill="#000"/>
<rect x="576" y="395" width="1" height="35" fill="#000"/>
<rect x="574" y="397" width="5" height="12" fill="#000"/>
<rect x="584" y="365" width="1" height="59" fill="#000"/>
<rect x="582" y="369" width="5" height="39" fill="#000"/>
<rect x="583" y="370" width="3" height="37" fill="#fff"/>
<rect x="592" y="362" width="1" height="9" fill="#000"/>
<rect x="590" y="364" width="5" height="7" fill="#000"/>
<rect x="600" y="348" width="1" height="46" fill="#000"/>
<rect x="598" y="369" width="5" height="2" fill="#000"/>
<rect x="608" y="336" width="1" height="97" fill="#000"/>
<rect x="606" y="354" width="5" height="16" fill="#000"/>
<rect x="607" y="355" width="3" height="14" fill="#fff"/>
<rect x="616" y="328" width="1" height="54" fill="#000"/>
<rect x="614" y="333" width="5" height="22" fill="#000"/>
<rect x="615" y="334" width="3" height="20" fill="#fff"/>
<rect x="624" y="281" width="1" height="85" fill="#000"/>
<rect x="622" y="297" width="5" height="37" fill="#000"/>
<rect x="623" y="298" width="3" height="35" fill="#fff"/>
<rect x="632" y="285" width="1" height="30" fill="#000"/>
<rect x="630" y="297" width="5" height="14" fill="#000"/>
<rect x="640" y="309" width="1" height="14" fill="#000"/>
<rect x="638" y="312" width="5" height="10" fill="#000"/>
<rect x="648" y="302" width="1" height="28" fill="#000"/>
<rect x="646" y="307" width="5" height="13" fill="#000"/>
<rect x="647" y="308" width="3" height="11" fill="#fff"/>
<rect x="656" y="290" width="1" height="41" fill="#000"/>
<rect x="654" y="297" width="5" height="11" fill="#000"/>
<rect x="655" y="298" width="3" height="9" fill="#fff"/>
<rect x="664" y="239" width="1" height="59" fill="#000"/>
<rect x="662" y="249" width="5" height="49" fill="#000"/>
<rect x="663" y="250" width="3" height="47" fill="#fff"/>
<rect x="672" y="230" width="1" height="37" fill="#000"/>
<rect x="670" y="232" width="5" height="18" fill="#000"/>
<rect x="671" y="233" width="3" height="16" fill="#fff"/>
<rect x="680" y="200" width="1" height="46" fill="#000"/>
<rect x="678" y="204" width="5" height="30" fill="#000"/>
<rect x="679" y="205" width="3" height="28" fill="#fff"/>
<rect x="688" y="203" width="1" height="10" fill="#000"/>
<rect x="686" y="205" width="5" height="7" fill="#000"/>
<rect x="696" y="209" width="1" height="31" fill="#000"/>
<rect x="694" y="210" width="5" height="24" fill="#000"/>
<rect x="704" y="211" width="1" height="56" fill="#000"/>
<rect x="702" y="233" width="5" height="22" fill="#000"/>
<rect x="712" y="238" width="1" height="29" fill="#000"/>
<rect x="710" y="254" width="5" height="7" fill="#000"/>
<rect x="720" y="250" width="1" height="32" fill="#000"/>
<rect x="718" y="259" width="5" height="9" fill="#000"/>
<rect x="728" y="241" width="1" height="46" fill="#000"/>
<rect x="726" y="248" width="5" height="20" fill="#000"/>
<rect x="727" y="249" width="3" height="18" fill="#fff"/>
<rect x="736" y="251" width="1" height="4" fill="#000"/>
<rect x="734" y="253" width="5" height="2" fill="#000"/>
<rect x="744" y="220" width="1" height="35" fill="#000"/>
<rect x="742" y="248" width="5" height="6" fill="#000"/>
<rect x="743" y="249" width="3" height="4" fill="#fff"/>
<rect x="752" y="239" width="1" height="49" fill="#000"/>
<rect x="750" y="248" width="5" height="28" fill="#000"/>
<rect x="760" y="272" width="1" height="25" fill="#000"/>
<rect x="758" y="274" width="5" height="8" fill="#000"/>
<rect x="768" y="268" width="1" height="48" fill="#000"/>
<rect x="766" y="279" width="5" height="7" fill="#000"/>
<rect x="776" y="271" width="1" height="23" fill="#000"/>
<rect x="774" y="284" width="5" height="5" fill="#000"/>
<rect x="784" y="285" width="1" height="6" fill="#000"/>
<rect x="782" y="286" width="5" height="3" fill="#000"/>
<rect x="783" y="287" width="3" height="1" fill="#fff"/>
<rect x="792" y="270" width="1" height="23" fill="#000"/>
<rect x="790" y="285" width="5" height="4" fill="#000"/>
<rect x="800" y="268" width="1" height="25" fill="#000"/>
<rect x="798" y="273" width="5" height="16" fill="#000"/>
<rect x="799" y="274" width="3" height="14" fill="#fff"/>
<rect x="808" y="247" width="1" height="29" fill="#000"/>
<rect x="806" y="269" width="5" height="6" fill="#000"/>
<rect x="807" y="270" width="3" height="4" fill="#fff"/>
<rect x="816" y="256" width="1" height="55" fill="#000"/>
<rect x="814" y="269" width="5" height="37" fill="#000"/>
<rect x="824" y="275" width="1" height="45" fill="#000"/>
<rect x="822" y="277" width="5" height="28" fill="#000"/>
<rect x="823" y="278" width="3" height="26" fill="#fff"/>
<rect x="832" y="266" width="1" height="7" fill="#000"/>
<rect x="830" y="267" width="5" height="4" fill="#000"/>
<rect x="831" y="268" width="3" height="2" fill="#fff"/>
<rect x="840" y="256" width="1" height="16" fill="#000"/>
<rect x="838" y="259" width="5" height="9" fill="#000"/>
<rect x="839" y="260" width="3" height="7" fill="#fff"/>
<rect x="848" y="204" width="1" height="70" fill="#000"/>
<rect x="846" y="213" width="5" height="47" fill="#000"/>
<rect x="847" y="214" width="3" height="45" fill="#fff"/>
<rect x="856" y="193" width="1" height="30" fill="#000"/>
<rect x="854" y="213" width="5" height="1" fill="#000"/>
<rect x="864" y="197" width="1" height="27" fill="#000"/>
<rect x="862" y="211" width="5" height="6" fill="#000"/>
<rect x="872" y="203" width="1" height="31" fill="#000"/>
<rect x="870" y="208" width="5" height="9" fill="#000"/>
<rect x="871" y="209" width="3" height="7" fill="#fff"/>
<rect x="880" y="202" width="1" height="5" fill="#000"/>
<rect x="878" y="203" width="5" height="4" fill="#000"/>
<rect x="879" y="204" width="3" height="2" fill="#fff"/>
<rect x="888" y="171" width="1" height="42" fill="#000"/>
<rect x="886" y="171" width="5" height="34" fill="#000"/>
<rect x="887" y="172" width="3" height="32" fill="#fff"/>
<rect x="896" y="131" width="1" height="52" fill="#000"/>
<rect x="894" y="146" width="5" height="26" fill="#000"/>
<rect x="895" y="147" width="3" height="24" fill="#fff"/>
<rect x="904" y="101" width="1" height="59" fill="#000"/>
<rect x="902" y="113" width="5" height="34" fill="#000"/>
<rect x="903" y="114" width="3" height="32" fill="#fff"/>
<rect x="912" y="94" width="1" height="42" fill="#000"/>
<rect x="910" y="111" width="5" height="3" fill="#000"/>
<rect x="911" y="112" width="3" height="1" fill="#fff"/>
<rect x="920" y="85" width="1" height="28" fill="#000"/>
<rect x="918" y="111" width="5" height="2" fill="#000"/>
<rect x="928" y="97" width="1" height="9" fill="#000"/>
<rect x="926" y="97" width="5" height="8" fill="#000"/>
<rect x="927" y="98" width="3" height="6" fill="#fff"/>
<rect x="936" y="93" width="1" height="39" fill="#000"/>
<rect x="934" y="97" width="5" height="28" fill="#000"/>
<rect x="944" y="109" width="1" height="37" fill="#000"/>
<rect x="942" y="124" width="5" height="5" fill="#000"/>
<rect x="952" y="124" width="1" height="20" fill="#000"/>
<rect x="950" y="128" width="5" height="2" fill="#000"/>
<rect x="960" y="124" width="1" height="48" fill="#000"/>
<rect x="958" y="129" width="5" height="33" fill="#000"/>
<rect x="968" y="159" width="1" height="59" fill="#000"/>
<rect x="966" y="160" width="5" height="50" fill="#000"/>
<rect x="976" y="213" width="1" height="7" fill="#000"/>
<rect x="974" y="218" width="5" height="1" fill="#000"/>
<rect x="984" y="109" width="1" height="127" fill="#000"/>
<rect x="982" y="119" width="5" height="100" fill="#000"/>
<rect x="983" y="120" width="3" height="98" fill="#fff"/>
<rect x="992" y="119" width="1" height="91" fill="#000"/>
<rect x="990" y="119" width="5" height="64" fill="#000"/>
<rect x="1000" y="81" width="1" height="102" fill="#000"/>
<rect x="998" y="110" width="5" height="73" fill="#000"/>
<rect x="999" y="111" width="3" height="71" fill="#fff"/>
<rect x="1008" y="75" width="1" height="48" fill="#000"/>
<rect x="1006" y="97" width="5" height="13" fill="#000"/>
<rect x="1007" y="98" width="3" height="11" fill="#fff"/>
<rect x="1016" y="91" width="1" height="31" fill="#000"/>
<rect x="1014" y="97" width="5" height="4" fill="#000"/>
<rect x="1024" y="91" width="1" height="7" fill="#000"/>
<rect x="1022" y="92" width="5" height="6" fill="#000"/>
<rect x="1023" y="93" width="3" height="4" fill="#fff"/>
<rect x="1032" y="90" width="1" height="45" fill="#000"/>
<rect x="1030" y="92" width="5" height="19" fill="#000"/>
<rect x="1040" y="101" width="1" height="17" fill="#000"/>
<rect x="1038" y="106" width="5" height="5" fill="#000"/>
<rect x="1039" y="107" width="3" height="3" fill="#fff"/>
<rect x="1048" y="100" width="1" height="70" fill="#000"/>
<rect x="1046" y="107" width="5" height="55" fill="#000"/>
<rect x="1056" y="152" width="1" height="71" fill="#000"/>
<rect x="1054" y="160" width="5" height="22" fill="#000"/>
<rect x="1064" y="172" width="1" height="39" fill="#000"/>
<rect x="1062" y="180" width="5" height="5" fill="#000"/>
<rect x="1072" y="179" width="1" height="7" fill="#000"/>
<rect x="1070" y="183" width="5" height="3" fill="#000"/>
<rect x="1071" y="184" width="3" height="1" fill="#fff"/>
<rect x="1080" y="170" width="1" height="38" fill="#000"/>
<rect x="1078" y="182" width="5" height="2" fill="#000"/>
<rect x="1088" y="150" width="1" height="46" fill="#000"/>
<rect x="1086" y="163" width="5" height="20" fill="#000"/>
<rect x="1087" y="164" width="3" height="18" fill="#fff"/>
<rect x="1096" y="148" width="1" height="45" fill="#000"/>
<rect x="1094" y="162" width="5" height="24" fill="#000"/>
<rect x="1104" y="177" width="1" height="44" fill="#000"/>
<rect x="1102" y="185" width="5" height="30" fill="#000"/>
<rect x="1112" y="180" width="1" height="53" fill="#000"/>
<rect x="1110" y="213" width="5" height="12" fill="#000"/>
<rect x="1120" y="209" width="1" height="6" fill="#000"/>
<rect x="1118" y="210" width="5" height="3" fill="#000"/>
<rect x="1119" y="211" width="3" height="1" fill="#fff"/>
<rect x="1128" y="153" width="1" height="62" fill="#000"/>
<rect x="1126" y="175" width="5" height="37" fill="#000"/>
<rect x="1127" y="176" width="3" height="35" fill="#fff"/>
<rect x="1136" y="150" width="1" height="49" fill="#000"/>
<rect x="1134" y="161" width="5" height="15" fill="#000"/>
<rect x="1135" y="162" width="3" height="13" fill="#fff"/>
<rect x="1144" y="127" width="1" height="38" fill="#000"/>
<rect x="1142" y="140" width="5" height="21" fill="#000"/>
<rect x="1143" y="141" width="3" height="19" fill="#fff"/>
<rect x="1152" y="134" width="1" height="42" fill="#000"/>
<rect x="1150" y="140" width="5" height="27" fill="#000"/>
<rect x="1160" y="147" width="1" height="46" fill="#000"/>
<rect x="1158" y="165" width="5" height="15" fill="#000"/>
<rect x="1168" y="175" width="1" height="3" fill="#000"/>
<rect x="1166" y="175" width="5" height="3" fill="#000"/>
<rect x="1167" y="176" width="3" height="1" fill="#fff"/>
<rect x="1176" y="171" width="1" height="22" fill="#000"/>
<rect x="1174" y="175" width="5" height="3" fill="#000"/>
<rect x="1184" y="162" width="1" height="41" fill="#000"/>
<rect x="1182" y="177" width="5" height="18" fill="#000"/>
<rect x="1192" y="173" width="1" height="25" fill="#000"/>
<rect x="1190" y="185" width="5" height="10" fill="#000"/>
<rect x="1191" y="186" width="3" height="8" fill="#fff"/>
<rect x="1200" y="165" width="1" height="28" fill="#000"/>
<rect x="1198" y="173" width="5" height="12" fill="#000"/>
<rect x="1199" y="174" width="3" height="10" fill="#fff"/>
<rect x="1208" y="133" width="1" height="42" fill="#000"/>
<rect x="1206" y="147" width="5" height="26" fill="#000"/>
<rect x="1207" y="148" width="3" height="24" fill="#fff"/>
<rect x="1216" y="146" width="1" height="5" fill="#000"/>
<rect x="1214" y="146" width="5" height="4" fill="#000"/>
<rect x="1215" y="147" width="3" height="2" fill="#fff"/>
<rect x="1224" y="134" width="1" height="20" fill="#000"/>
<rect x="1222" y="144" width="5" height="3" fill="#000"/>
<rect x="1223" y="145" width="3" height="1" fill="#fff"/>
<rect x="1232" y="141" width="1" height="25" fill="#000"/>
<rect x="1230" y="144" width="5" height="21" fill="#000"/>
<rect x="1240" y="155" width="1" height="16" fill="#000"/>
<rect x="1238" y="163" width="5" height="1" fill="#000"/>
<rect x="1248" y="162" width="1" height="26" fill="#000"/>
<rect x="1246" y="163" width="5" height="24" fill="#000"/>
<rect x="1256" y="182" width="1" height="2" fill="#000"/>
<rect x="1254" y="182" width="5" height="2" fill="#000"/>
<rect x="1264" y="179" width="1" height="11" fill="#000"/>
<rect x="1262" y="182" width="5" height="6" fill="#000"/>
<rect x="1272" y="175" width="1" height="34" fill="#000"/>
<rect x="1270" y="186" width="5" height="19" fill="#000"/>
<rect x="1280" y="194" width="1" height="20" fill="#000"/>
<rect x="1278" y="203" width="5" height="2" fill="#000"/>
<rect x="1288" y="199" width="1" height="36" fill="#000"/>
<rect x="1286" y="203" width="5" height="28" fill="#000"/>
<rect x="1296" y="212" width="1" height="23" fill="#000"/>
<rect x="1294" y="216" width="5" height="15" fill="#000"/>
<rect x="1295" y="217" width="3" height="13" fill="#fff"/>
<rect x="1304" y="218" width="1" height="3" fill="#000"/>
<rect x="1302" y="218" width="5" height="3" fill="#000"/>
<rect x="1312" y="204" width="1" height="18" fill="#000"/>
<rect x="1310" y="211" width="5" height="10" fill="#000"/>
<rect x="1311" y="212" width="3" height="8" fill="#fff"/>
<rect x="1320" y="183" width="1" height="42" fill="#000"/>
<rect x="1318" y="186" width="5" height="26" fill="#000"/>
<rect x="1319" y="187" width="3" height="24" fill="#fff"/>
<rect x="1328" y="173" width="1" height="14" fill="#000"/>
<rect x="1326" y="180" width="5" height="7" fill="#000"/>
<rect x="1327" y="181" width="3" height="5" fill="#fff"/>
<rect x="1336" y="168" width="1" height="25" fill="#000"/>
<rect x="1334" y="180" width="5" height="7" fill="#000"/>
<rect x="1344" y="148" width="1" height="55" fill="#000"/>
<rect x="1342" y="157" width="5" height="30" fill="#000"/>
<rect x="1343" y="158" width="3" height="28" fill="#fff"/>
<rect x="1352" y="166" width="1" height="15" fill="#000"/>
<rect x="1350" y="167" width="5" height="14" fill="#000"/>
<rect x="1360" y="178" width="1" height="21" fill="#000"/>
<rect x="1358" y="180" width="5" height="12" fill="#000"/>
<rect x="1368" y="184" width="1" height="48" fill="#000"/>
<rect x="1366" y="191" width="5" height="34" fill="#000"/>
<rect x="1376" y="223" width="1" height="34" fill="#000"/>
<rect x="1374" y="223" width="5" height="32" fill="#000"/>
<rect x="1384" y="250" width="1" height="31" fill="#000"/>
<rect x="1382" y="252" width="5" height="11" fill="#000"/>
<rect x="1392" y="249" width="1" height="24" fill="#000"/>
<rect x="1390" y="258" width="5" height="4" fill="#000"/>
<rect x="1391" y="259" width="3" height="2" fill="#fff"/>
<rect x="1400" y="263" width="1" height="6" fill="#000"/>
<rect x="1398" y="264" width="5" height="5" fill="#000"/>
<rect x="1408" y="261" width="1" height="53" fill="#000"/>
<rect x="1406" y="268" width="5" height="37" fill="#000"/>
<rect x="1416" y="282" width="1" height="26" fill="#000"/>
<rect x="1414" y="301" width="5" height="4" fill="#000"/>
<rect x="1415" y="302" width="3" height="2" fill="#fff"/>
<rect x="1424" y="298" width="1" height="46" fill="#000"/>
<rect x="1422" y="302" width="5" height="29" fill="#000"/>
<rect x="1432" y="325" width="1" height="19" fill="#000"/>
<rect x="1430" y="331" width="5" height="3" fill="#000"/>
</g>
<rect x="1630" y="282" width="41" height="11" fill="#ff4500"/>
<text x="1634.5" y="291" font-size="10" fill="#fff" stroke="#fff" stroke-width="0.3" font-weight="normal" text-anchor="start" textLength="32.4" lengthAdjust="spacingAndGlyphs" >141.967</text>
<rect x="1630" y="294" width="41" height="11" fill="#ff0000"/>
<text x="1634.5" y="303" font-size="10" fill="#fff" stroke="#fff" stroke-width="0.3" font-weight="normal" text-anchor="start" textLength="32.4" lengthAdjust="spacingAndGlyphs" >141.579</text>
<rect x="1630" y="311" width="41" height="11" fill="#32cd32"/>
<text x="1634.5" y="320" font-size="10" fill="#fff" stroke="#fff" stroke-width="0.3" font-weight="normal" text-anchor="start" textLength="32.4" lengthAdjust="spacingAndGlyphs" >141.035</text>
<rect x="1630" y="327" width="41" height="11" fill="#000000"/>
<text x="1634.5" y="336" font-size="10" fill="#fff" stroke="#fff" stroke-width="0.3" font-weight="normal" text-anchor="start" textLength="32.4" lengthAdjust="spacingAndGlyphs" >140.548</text>
<rect x="1630" y="342" width="41" height="11" fill="#0000ff"/>
<text x="1634.5" y="351" font-size="10" fill="#fff" stroke="#fff" stroke-width="0.3" font-weight="normal" text-anchor="start" textLength="32.4" lengthAdjust="spacingAndGlyphs" >140.027</text>
<rect x="1630" y="356" width="41" height="11" fill="#0000ff"/>
<text x="1634.5" y="365" font-size="10" fill="#fff" stroke="#fff" stroke-width="0.3" font-weight="normal" text-anchor="start" textLength="32.4" lengthAdjust="spacingAndGlyphs" >139.574</text>
<polygon points="1442,30 1452,30 1447,35" fill="#c4c4c4"/>
<rect x="1" y="47" width="223" height="68" fill="#fff"/>
<defs><linearGradient id="gb" x1="0" y1="0" x2="0" y2="1"><stop offset="0" stop-color="#5c5cff"/><stop offset="1" stop-color="#3535e8"/></linearGradient><linearGradient id="gp" x1="0" y1="0" x2="0" y2="1"><stop offset="0" stop-color="#3c3cea"/><stop offset="1" stop-color="#0000b4"/></linearGradient></defs>
<rect x="3" y="49" width="52" height="25" fill="url(#gb)"/>
<rect x="3" y="73" width="109" height="40" fill="url(#gp)"/>
<rect x="3" y="49" width="52" height="1" fill="#0000a0"/><rect x="3" y="49" width="1" height="64" fill="#0000a0"/><rect x="54" y="49" width="1" height="24" fill="#0000a0"/>
<rect x="7" y="73" width="44" height="1" fill="#7a7aff"/>
<rect x="170" y="49" width="52" height="25" fill="url(#gb)"/>
<rect x="114" y="73" width="108" height="40" fill="url(#gp)"/>
<rect x="170" y="49" width="52" height="1" fill="#0000a0"/><rect x="170" y="49" width="1" height="24" fill="#0000a0"/><rect x="221" y="49" width="1" height="64" fill="#0000a0"/>
<rect x="174" y="73" width="44" height="1" fill="#7a7aff"/>
<rect x="57.5" y="49.5" width="110" height="21" fill="#fff" stroke="#a8a8a8"/>
<rect x="58" y="50" width="20" height="20" fill="#e6e6e6"/><rect x="78" y="50" width="1" height="20" fill="#b8b8b8"/>
<rect x="147" y="50" width="20" height="20" fill="#e6e6e6"/><rect x="146" y="50" width="1" height="20" fill="#b8b8b8"/>
<path d="M64.5,58 L70.5,58 L67.5,61 Z" fill="#000"/><path d="M154,61 L160,61 L157,58 Z" fill="#000"/>
<text x="142.5" y="64" font-size="12" fill="#101010" text-anchor="end" textLength="22.7" lengthAdjust="spacingAndGlyphs">1.00</text>
<text x="15.5" y="65" font-size="12" fill="#f4f4ff" textLength="25.4" lengthAdjust="spacingAndGlyphs">SELL</text>
<text x="183.7" y="65" font-size="12" fill="#f4f4ff" textLength="23.1" lengthAdjust="spacingAndGlyphs">BUY</text>
<text x="26.9" y="104" font-size="12.5" font-weight="bold" fill="#fff" textLength="20" lengthAdjust="spacingAndGlyphs">140</text>
<text x="52.6" y="104.3" font-size="33" fill="#fff" textLength="33.3" lengthAdjust="spacingAndGlyphs">54</text>
<text x="90" y="88" font-size="12" font-weight="bold" fill="#fff" textLength="7" lengthAdjust="spacingAndGlyphs">8</text>
<text x="136.8" y="104" font-size="12.5" font-weight="bold" fill="#fff" textLength="20" lengthAdjust="spacingAndGlyphs">140</text>
<text x="163.3" y="104.3" font-size="33" fill="#fff" textLength="33.3" lengthAdjust="spacingAndGlyphs">59</text>
<text x="201.5" y="88" font-size="12" font-weight="bold" fill="#fff" textLength="7" lengthAdjust="spacingAndGlyphs">3</text>
<polygon points="3,40 10,40 6.5,36" fill="#000"/>
<text x="15" y="41" font-size="10" fill="#000" stroke="#000" stroke-width="0.3" font-weight="normal" text-anchor="start" textLength="63.0" lengthAdjust="spacingAndGlyphs" >GBPJPY-,Daily</text>
<text x="84.5" y="41" font-size="10" fill="#000" stroke="#000" stroke-width="0.3" font-weight="normal" text-anchor="start" textLength="140.5" lengthAdjust="spacingAndGlyphs" >140.607 140.777 140.188 140.548</text>
<polyline points="1059.7,322.3 1047.3,330.7" fill="none" stroke="#000" stroke-width="2.2" stroke-linecap="round" stroke-linejoin="round" shape-rendering="geometricPrecision"/>
<polyline points="1056.3,326.3 1070.6,326.3 1045.9,336.9" fill="none" stroke="#000" stroke-width="2.2" stroke-linecap="round" stroke-linejoin="round" shape-rendering="geometricPrecision"/>
<polyline points="1055.1,328.6 1058.3,331.1" fill="none" stroke="#000" stroke-width="2.2" stroke-linecap="round" stroke-linejoin="round" shape-rendering="geometricPrecision"/>
<polyline points="1057.2,337.8 1072.2,337.8 1061.3,345.3 1045.9,350.3" fill="none" stroke="#000" stroke-width="2.2" stroke-linecap="round" stroke-linejoin="round" shape-rendering="geometricPrecision"/>
<polyline points="1048.0,343.2 1061.3,335.3" fill="none" stroke="#000" stroke-width="2.2" stroke-linecap="round" stroke-linejoin="round" shape-rendering="geometricPrecision"/>
<polyline points="1058.0,342.3 1059.3,344.8" fill="none" stroke="#000" stroke-width="2.2" stroke-linecap="round" stroke-linejoin="round" shape-rendering="geometricPrecision"/>
<polyline points="1088.5,321.9 1094.0,325.3" fill="none" stroke="#000" stroke-width="2.2" stroke-linecap="round" stroke-linejoin="round" shape-rendering="geometricPrecision"/>
<polyline points="1080.6,326.5 1079.7,331.1" fill="none" stroke="#000" stroke-width="2.2" stroke-linecap="round" stroke-linejoin="round" shape-rendering="geometricPrecision"/>
<polyline points="1080.3,326.8 1105.7,326.8 1102.7,330.7" fill="none" stroke="#000" stroke-width="2.2" stroke-linecap="round" stroke-linejoin="round" shape-rendering="geometricPrecision"/>
<polyline points="1090.2,330.3 1079.7,336.5" fill="none" stroke="#000" stroke-width="2.2" stroke-linecap="round" stroke-linejoin="round" shape-rendering="geometricPrecision"/>
<polyline points="1094.3,329.3 1104.0,335.3" fill="none" stroke="#000" stroke-width="2.2" stroke-linecap="round" stroke-linejoin="round" shape-rendering="geometricPrecision"/>
<polyline points="1082.7,337.3 1102.3,337.3" fill="none" stroke="#000" stroke-width="2.2" stroke-linecap="round" stroke-linejoin="round" shape-rendering="geometricPrecision"/>
<polyline points="1091.9,337.3 1091.9,349.1" fill="none" stroke="#000" stroke-width="2.2" stroke-linecap="round" stroke-linejoin="round" shape-rendering="geometricPrecision"/>
<polyline points="1078.1,349.1 1105.7,349.1" fill="none" stroke="#000" stroke-width="2.2" stroke-linecap="round" stroke-linejoin="round" shape-rendering="geometricPrecision"/>
<polyline points="1110.5,327.3 1121.3,327.3" fill="none" stroke="#000" stroke-width="2.2" stroke-linecap="round" stroke-linejoin="round" shape-rendering="geometricPrecision"/>
<polyline points="1117.6,322.7 1112.6,335.7 1120.1,335.3" fill="none" stroke="#000" stroke-width="2.2" stroke-linecap="round" stroke-linejoin="round" shape-rendering="geometricPrecision"/>
<polyline points="1118.0,331.1 1118.0,350.3" fill="none" stroke="#000" stroke-width="2.2" stroke-linecap="round" stroke-linejoin="round" shape-rendering="geometricPrecision"/>
<polyline points="1110.5,344.0 1122.2,340.7" fill="none" stroke="#000" stroke-width="2.2" stroke-linecap="round" stroke-linejoin="round" shape-rendering="geometricPrecision"/>
<polyline points="1124.7,328.2 1138.5,328.2" fill="none" stroke="#000" stroke-width="2.2" stroke-linecap="round" stroke-linejoin="round" shape-rendering="geometricPrecision"/>
<polyline points="1123.9,334.0 1139.7,334.0" fill="none" stroke="#000" stroke-width="2.2" stroke-linecap="round" stroke-linejoin="round" shape-rendering="geometricPrecision"/>
<polyline points="1131.3,322.7 1128.9,334.0 1126.3,339.9 1137.2,339.9 1133.0,345.7" fill="none" stroke="#000" stroke-width="2.2" stroke-linecap="round" stroke-linejoin="round" shape-rendering="geometricPrecision"/>
<polyline points="1125.1,344.0 1134.7,350.3" fill="none" stroke="#000" stroke-width="2.2" stroke-linecap="round" stroke-linejoin="round" shape-rendering="geometricPrecision"/>
<polyline points="1143.5,329.0 1155.6,329.0" fill="none" stroke="#000" stroke-width="2.2" stroke-linecap="round" stroke-linejoin="round" shape-rendering="geometricPrecision"/>
<polyline points="1151.4,322.3 1151.4,349.9 1145.2,347.0" fill="none" stroke="#000" stroke-width="2.2" stroke-linecap="round" stroke-linejoin="round" shape-rendering="geometricPrecision"/>
<polyline points="1143.5,339.0 1156.4,334.9" fill="none" stroke="#000" stroke-width="2.2" stroke-linecap="round" stroke-linejoin="round" shape-rendering="geometricPrecision"/>
<polyline points="1170.7,323.6 1158.1,325.3" fill="none" stroke="#000" stroke-width="2.2" stroke-linecap="round" stroke-linejoin="round" shape-rendering="geometricPrecision"/>
<polyline points="1158.5,325.3 1158.3,338.2 1152.3,350.7" fill="none" stroke="#000" stroke-width="2.2" stroke-linecap="round" stroke-linejoin="round" shape-rendering="geometricPrecision"/>
<polyline points="1158.5,333.6 1172.7,333.6" fill="none" stroke="#000" stroke-width="2.2" stroke-linecap="round" stroke-linejoin="round" shape-rendering="geometricPrecision"/>
<polyline points="1166.5,333.6 1166.5,350.3" fill="none" stroke="#000" stroke-width="2.2" stroke-linecap="round" stroke-linejoin="round" shape-rendering="geometricPrecision"/>
<polyline points="1190.4,322.1 1190.4,335.4" fill="none" stroke="#000" stroke-width="2.2" stroke-linecap="round" stroke-linejoin="round" shape-rendering="geometricPrecision"/>
<polyline points="1190.4,327.8 1203.8,327.8" fill="none" stroke="#000" stroke-width="2.2" stroke-linecap="round" stroke-linejoin="round" shape-rendering="geometricPrecision"/>
<polyline points="1183.3,335.4 1200.9,335.4 1200.9,343.5 1183.3,343.5 1183.3,335.4" fill="none" stroke="#000" stroke-width="2.2" stroke-linecap="round" stroke-linejoin="round" shape-rendering="geometricPrecision"/>
<polyline points="1179.3,346.3 1177.3,350.3" fill="none" stroke="#000" stroke-width="2.2" stroke-linecap="round" stroke-linejoin="round" shape-rendering="geometricPrecision"/>
<polyline points="1186.3,346.3 1186.8,350.3" fill="none" stroke="#000" stroke-width="2.2" stroke-linecap="round" stroke-linejoin="round" shape-rendering="geometricPrecision"/>
<polyline points="1192.8,346.3 1194.3,350.3" fill="none" stroke="#000" stroke-width="2.2" stroke-linecap="round" stroke-linejoin="round" shape-rendering="geometricPrecision"/>
<polyline points="1199.3,345.8 1202.3,349.8" fill="none" stroke="#000" stroke-width="2.2" stroke-linecap="round" stroke-linejoin="round" shape-rendering="geometricPrecision"/>
<polyline points="1058.4,321.0 1046.0,329.4" fill="none" stroke="#00ff00" stroke-width="2.2" stroke-linecap="round" stroke-linejoin="round" shape-rendering="geometricPrecision"/>
<polyline points="1055.0,325.0 1069.3,325.0 1044.6,335.6" fill="none" stroke="#00ff00" stroke-width="2.2" stroke-linecap="round" stroke-linejoin="round" shape-rendering="geometricPrecision"/>
<polyline points="1053.8,327.3 1057.0,329.8" fill="none" stroke="#00ff00" stroke-width="2.2" stroke-linecap="round" stroke-linejoin="round" shape-rendering="geometricPrecision"/>
<polyline points="1055.9,336.5 1070.9,336.5 1060.0,344.0 1044.6,349.0" fill="none" stroke="#00ff00" stroke-width="2.2" stroke-linecap="round" stroke-linejoin="round" shape-rendering="geometricPrecision"/>
<polyline points="1046.7,341.9 1060.0,334.0" fill="none" stroke="#00ff00" stroke-width="2.2" stroke-linecap="round" stroke-linejoin="round" shape-rendering="geometricPrecision"/>
<polyline points="1056.7,341.0 1058.0,343.5" fill="none" stroke="#00ff00" stroke-width="2.2" stroke-linecap="round" stroke-linejoin="round" shape-rendering="geometricPrecision"/>
<polyline points="1087.2,320.6 1092.7,324.0" fill="none" stroke="#00ff00" stroke-width="2.2" stroke-linecap="round" stroke-linejoin="round" shape-rendering="geometricPrecision"/>
<polyline points="1079.3,325.2 1078.4,329.8" fill="none" stroke="#00ff00" stroke-width="2.2" stroke-linecap="round" stroke-linejoin="round" shape-rendering="geometricPrecision"/>
<polyline points="1079.0,325.5 1104.4,325.5 1101.4,329.4" fill="none" stroke="#00ff00" stroke-width="2.2" stroke-linecap="round" stroke-linejoin="round" shape-rendering="geometricPrecision"/>
<polyline points="1088.9,329.0 1078.4,335.2" fill="none" stroke="#00ff00" stroke-width="2.2" stroke-linecap="round" stroke-linejoin="round" shape-rendering="geometricPrecision"/>
<polyline points="1093.0,328.0 1102.7,334.0" fill="none" stroke="#00ff00" stroke-width="2.2" stroke-linecap="round" stroke-linejoin="round" shape-rendering="geometricPrecision"/>
<polyline points="1081.4,336.0 1101.0,336.0" fill="none" stroke="#00ff00" stroke-width="2.2" stroke-linecap="round" stroke-linejoin="round" shape-rendering="geometricPrecision"/>
<polyline points="1090.6,336.0 1090.6,347.8" fill="none" stroke="#00ff00" stroke-width="2.2" stroke-linecap="round" stroke-linejoin="round" shape-rendering="geometricPrecision"/>
<polyline points="1076.8,347.8 1104.4,347.8" fill="none" stroke="#00ff00" stroke-width="2.2" stroke-linecap="round" stroke-linejoin="round" shape-rendering="geometricPrecision"/>
<polyline points="1109.2,326.0 1120.0,326.0" fill="none" stroke="#00ff00" stroke-width="2.2" stroke-linecap="round" stroke-linejoin="round" shape-rendering="geometricPrecision"/>
<polyline points="1116.3,321.4 1111.3,334.4 1118.8,334.0" fill="none" stroke="#00ff00" stroke-width="2.2" stroke-linecap="round" stroke-linejoin="round" shape-rendering="geometricPrecision"/>
<polyline points="1116.7,329.8 1116.7,349.0" fill="none" stroke="#00ff00" stroke-width="2.2" stroke-linecap="round" stroke-linejoin="round" shape-rendering="geometricPrecision"/>
<polyline points="1109.2,342.7 1120.9,339.4" fill="none" stroke="#00ff00" stroke-width="2.2" stroke-linecap="round" stroke-linejoin="round" shape-rendering="geometricPrecision"/>
<polyline points="1123.4,326.9 1137.2,326.9" fill="none" stroke="#00ff00" stroke-width="2.2" stroke-linecap="round" stroke-linejoin="round" shape-rendering="geometricPrecision"/>
<polyline points="1122.6,332.7 1138.4,332.7" fill="none" stroke="#00ff00" stroke-width="2.2" stroke-linecap="round" stroke-linejoin="round" shape-rendering="geometricPrecision"/>
<polyline points="1130.0,321.4 1127.6,332.7 1125.0,338.6 1135.9,338.6 1131.7,344.4" fill="none" stroke="#00ff00" stroke-width="2.2" stroke-linecap="round" stroke-linejoin="round" shape-rendering="geometricPrecision"/>
<polyline points="1123.8,342.7 1133.4,349.0" fill="none" stroke="#00ff00" stroke-width="2.2" stroke-linecap="round" stroke-linejoin="round" shape-rendering="geometricPrecision"/>
<polyline points="1142.2,327.7 1154.3,327.7" fill="none" stroke="#00ff00" stroke-width="2.2" stroke-linecap="round" stroke-linejoin="round" shape-rendering="geometricPrecision"/>
<polyline points="1150.1,321.0 1150.1,348.6 1143.9,345.7" fill="none" stroke="#00ff00" stroke-width="2.2" stroke-linecap="round" stroke-linejoin="round" shape-rendering="geometricPrecision"/>
<polyline points="1142.2,337.7 1155.1,333.6" fill="none" stroke="#00ff00" stroke-width="2.2" stroke-linecap="round" stroke-linejoin="round" shape-rendering="geometricPrecision"/>
<polyline points="1169.4,322.3 1156.8,324.0" fill="none" stroke="#00ff00" stroke-width="2.2" stroke-linecap="round" stroke-linejoin="round" shape-rendering="geometricPrecision"/>
<polyline points="1157.2,324.0 1157.0,336.9 1151.0,349.4" fill="none" stroke="#00ff00" stroke-width="2.2" stroke-linecap="round" stroke-linejoin="round" shape-rendering="geometricPrecision"/>
<polyline points="1157.2,332.3 1171.4,332.3" fill="none" stroke="#00ff00" stroke-width="2.2" stroke-linecap="round" stroke-linejoin="round" shape-rendering="geometricPrecision"/>
<polyline points="1165.2,332.3 1165.2,349.0" fill="none" stroke="#00ff00" stroke-width="2.2" stroke-linecap="round" stroke-linejoin="round" shape-rendering="geometricPrecision"/>
<polyline points="1189.1,320.8 1189.1,334.1" fill="none" stroke="#00ff00" stroke-width="2.2" stroke-linecap="round" stroke-linejoin="round" shape-rendering="geometricPrecision"/>
<polyline points="1189.1,326.5 1202.5,326.5" fill="none" stroke="#00ff00" stroke-width="2.2" stroke-linecap="round" stroke-linejoin="round" shape-rendering="geometricPrecision"/>
<polyline points="1182.0,334.1 1199.6,334.1 1199.6,342.2 1182.0,342.2 1182.0,334.1" fill="none" stroke="#00ff00" stroke-width="2.2" stroke-linecap="round" stroke-linejoin="round" shape-rendering="geometricPrecision"/>
<polyline points="1178.0,345.0 1176.0,349.0" fill="none" stroke="#00ff00" stroke-width="2.2" stroke-linecap="round" stroke-linejoin="round" shape-rendering="geometricPrecision"/>
<polyline points="1185.0,345.0 1185.5,349.0" fill="none" stroke="#00ff00" stroke-width="2.2" stroke-linecap="round" stroke-linejoin="round" shape-rendering="geometricPrecision"/>
<polyline points="1191.5,345.0 1193.0,349.0" fill="none" stroke="#00ff00" stroke-width="2.2" stroke-linecap="round" stroke-linejoin="round" shape-rendering="geometricPrecision"/>
<polyline points="1198.0,344.5 1201.0,348.5" fill="none" stroke="#00ff00" stroke-width="2.2" stroke-linecap="round" stroke-linejoin="round" shape-rendering="geometricPrecision"/>
<text x="1209.5" y="348" font-size="33" font-weight="bold" fill="#000" textLength="114.6" lengthAdjust="spacingAndGlyphs" shape-rendering="geometricPrecision">141.035</text>
<text x="1208.2" y="346.8" font-size="33" font-weight="bold" fill="#00ff00" textLength="114.6" lengthAdjust="spacingAndGlyphs">141.035</text>
<rect x="1345" y="314" width="101" height="8" fill="#00ff00"/>
<g clip-path="url(#cmacd)">
<rect x="0" y="664" width="1" height="7" fill="#c0c0c0"/>
<rect x="8" y="666" width="1" height="5" fill="#c0c0c0"/>
<rect x="16" y="669" width="1" height="2" fill="#c0c0c0"/>
<rect x="24" y="670" width="1" height="4" fill="#c0c0c0"/>
<rect x="32" y="670" width="1" height="9" fill="#c0c0c0"/>
<rect x="40" y="670" width="1" height="20" fill="#c0c0c0"/>
<rect x="48" y="670" width="1" height="28" fill="#c0c0c0"/>
<rect x="56" y="670" width="1" height="38" fill="#c0c0c0"/>
<rect x="64" y="670" width="1" height="45" fill="#c0c0c0"/>
<rect x="72" y="670" width="1" height="47" fill="#c0c0c0"/>
<rect x="80" y="670" width="1" height="50" fill="#c0c0c0"/>
<rect x="88" y="670" width="1" height="50" fill="#c0c0c0"/>
<rect x="96" y="670" width="1" height="39" fill="#c0c0c0"/>
<rect x="104" y="670" width="1" height="29" fill="#c0c0c0"/>
<rect x="112" y="670" width="1" height="21" fill="#c0c0c0"/>
<rect x="120" y="670" width="1" height="9" fill="#c0c0c0"/>
<rect x="128" y="667" width="1" height="4" fill="#c0c0c0"/>
<rect x="136" y="657" width="1" height="14" fill="#c0c0c0"/>
<rect x="144" y="650" width="1" height="21" fill="#c0c0c0"/>
<rect x="152" y="649" width="1" height="22" fill="#c0c0c0"/>
<rect x="160" y="650" width="1" height="21" fill="#c0c0c0"/>
<rect x="168" y="656" width="1" height="15" fill="#c0c0c0"/>
<rect x="176" y="653" width="1" height="18" fill="#c0c0c0"/>
<rect x="184" y="654" width="1" height="17" fill="#c0c0c0"/>
<rect x="192" y="664" width="1" height="7" fill="#c0c0c0"/>
<rect x="200" y="670" width="1" height="3" fill="#c0c0c0"/>
<rect x="208" y="670" width="1" height="10" fill="#c0c0c0"/>
<rect x="216" y="670" width="1" height="17" fill="#c0c0c0"/>
<rect x="224" y="670" width="1" height="23" fill="#c0c0c0"/>
<rect x="232" y="670" width="1" height="28" fill="#c0c0c0"/>
<rect x="240" y="670" width="1" height="26" fill="#c0c0c0"/>
<rect x="248" y="670" width="1" height="28" fill="#c0c0c0"/>
<rect x="256" y="670" width="1" height="28" fill="#c0c0c0"/>
<rect x="264" y="670" width="1" height="26" fill="#c0c0c0"/>
<rect x="272" y="670" width="1" height="23" fill="#c0c0c0"/>
<rect x="280" y="670" width="1" height="22" fill="#c0c0c0"/>
<rect x="288" y="670" width="1" height="22" fill="#c0c0c0"/>
<rect x="296" y="670" width="1" height="23" fill="#c0c0c0"/>
<rect x="304" y="670" width="1" height="21" fill="#c0c0c0"/>
<rect x="312" y="670" width="1" height="23" fill="#c0c0c0"/>
<rect x="320" y="670" width="1" height="27" fill="#c0c0c0"/>
<rect x="328" y="670" width="1" height="29" fill="#c0c0c0"/>
<rect x="336" y="670" width="1" height="31" fill="#c0c0c0"/>
<rect x="344" y="670" width="1" height="32" fill="#c0c0c0"/>
<rect x="352" y="670" width="1" height="34" fill="#c0c0c0"/>
<rect x="360" y="670" width="1" height="40" fill="#c0c0c0"/>
<rect x="368" y="670" width="1" height="47" fill="#c0c0c0"/>
<rect x="376" y="670" width="1" height="46" fill="#c0c0c0"/>
<rect x="384" y="670" width="1" height="41" fill="#c0c0c0"/>
<rect x="392" y="670" width="1" height="43" fill="#c0c0c0"/>
<rect x="400" y="670" width="1" height="43" fill="#c0c0c0"/>
<rect x="408" y="670" width="1" height="43" fill="#c0c0c0"/>
<rect x="416" y="670" width="1" height="44" fill="#c0c0c0"/>
<rect x="424" y="670" width="1" height="45" fill="#c0c0c0"/>
<rect x="432" y="670" width="1" height="50" fill="#c0c0c0"/>
<rect x="440" y="670" width="1" height="53" fill="#c0c0c0"/>
<rect x="448" y="670" width="1" height="57" fill="#c0c0c0"/>
<rect x="456" y="670" width="1" height="61" fill="#c0c0c0"/>
<rect x="464" y="670" width="1" height="62" fill="#c0c0c0"/>
<rect x="472" y="670" width="1" height="61" fill="#c0c0c0"/>
<rect x="480" y="670" width="1" height="61" fill="#c0c0c0"/>
<rect x="488" y="670" width="1" height="61" fill="#c0c0c0"/>
<rect x="496" y="670" width="1" height="61" fill="#c0c0c0"/>
<rect x="504" y="670" width="1" height="60" fill="#c0c0c0"/>
<rect x="512" y="670" width="1" height="59" fill="#c0c0c0"/>
<rect x="520" y="670" width="1" height="80" fill="#c0c0c0"/>
<rect x="528" y="670" width="1" height="88" fill="#c0c0c0"/>
<rect x="536" y="670" width="1" height="86" fill="#c0c0c0"/>
<rect x="544" y="670" width="1" height="82" fill="#c0c0c0"/>
<rect x="552" y="670" width="1" height="77" fill="#c0c0c0"/>
<rect x="560" y="670" width="1" height="72" fill="#c0c0c0"/>
<rect x="568" y="670" width="1" height="69" fill="#c0c0c0"/>
<rect x="576" y="670" width="1" height="66" fill="#c0c0c0"/>
<rect x="584" y="670" width="1" height="59" fill="#c0c0c0"/>
<rect x="592" y="670" width="1" height="52" fill="#c0c0c0"/>
<rect x="600" y="670" width="1" height="46" fill="#c0c0c0"/>
<rect x="608" y="670" width="1" height="39" fill="#c0c0c0"/>
<rect x="616" y="670" width="1" height="29" fill="#c0c0c0"/>
<rect x="624" y="670" width="1" height="17" fill="#c0c0c0"/>
<rect x="632" y="670" width="1" height="10" fill="#c0c0c0"/>
<rect x="640" y="670" width="1" height="5" fill="#c0c0c0"/>
<rect x="648" y="670" width="1" height="2" fill="#c0c0c0"/>
<rect x="656" y="664" width="1" height="7" fill="#c0c0c0"/>
<rect x="664" y="653" width="1" height="18" fill="#c0c0c0"/>
<rect x="672" y="642" width="1" height="29" fill="#c0c0c0"/>
<rect x="680" y="631" width="1" height="40" fill="#c0c0c0"/>
<rect x="688" y="623" width="1" height="48" fill="#c0c0c0"/>
<rect x="696" y="620" width="1" height="51" fill="#c0c0c0"/>
<rect x="704" y="621" width="1" height="50" fill="#c0c0c0"/>
<rect x="712" y="623" width="1" height="48" fill="#c0c0c0"/>
<rect x="720" y="627" width="1" height="44" fill="#c0c0c0"/>
<rect x="728" y="628" width="1" height="43" fill="#c0c0c0"/>
<rect x="736" y="629" width="1" height="42" fill="#c0c0c0"/>
<rect x="744" y="631" width="1" height="40" fill="#c0c0c0"/>
<rect x="752" y="635" width="1" height="36" fill="#c0c0c0"/>
<rect x="760" y="640" width="1" height="31" fill="#c0c0c0"/>
<rect x="768" y="645" width="1" height="26" fill="#c0c0c0"/>
<rect x="776" y="650" width="1" height="21" fill="#c0c0c0"/>
<rect x="784" y="653" width="1" height="18" fill="#c0c0c0"/>
<rect x="792" y="657" width="1" height="14" fill="#c0c0c0"/>
<rect x="800" y="657" width="1" height="14" fill="#c0c0c0"/>
<rect x="808" y="658" width="1" height="13" fill="#c0c0c0"/>
<rect x="816" y="663" width="1" height="8" fill="#c0c0c0"/>
<rect x="824" y="663" width="1" height="8" fill="#c0c0c0"/>
<rect x="832" y="662" width="1" height="9" fill="#c0c0c0"/>
<rect x="840" y="660" width="1" height="11" fill="#c0c0c0"/>
<rect x="848" y="653" width="1" height="18" fill="#c0c0c0"/>
<rect x="856" y="647" width="1" height="24" fill="#c0c0c0"/>
<rect x="864" y="643" width="1" height="28" fill="#c0c0c0"/>
<rect x="872" y="640" width="1" height="31" fill="#c0c0c0"/>
<rect x="880" y="637" width="1" height="34" fill="#c0c0c0"/>
<rect x="888" y="630" width="1" height="41" fill="#c0c0c0"/>
<rect x="896" y="622" width="1" height="49" fill="#c0c0c0"/>
<rect x="904" y="612" width="1" height="59" fill="#c0c0c0"/>
<rect x="912" y="605" width="1" height="66" fill="#c0c0c0"/>
<rect x="920" y="600" width="1" height="71" fill="#c0c0c0"/>
<rect x="928" y="595" width="1" height="76" fill="#c0c0c0"/>
<rect x="936" y="595" width="1" height="76" fill="#c0c0c0"/>
<rect x="944" y="597" width="1" height="74" fill="#c0c0c0"/>
<rect x="952" y="599" width="1" height="72" fill="#c0c0c0"/>
<rect x="960" y="606" width="1" height="65" fill="#c0c0c0"/>
<rect x="968" y="619" width="1" height="52" fill="#c0c0c0"/>
<rect x="976" y="631" width="1" height="40" fill="#c0c0c0"/>
<rect x="984" y="627" width="1" height="44" fill="#c0c0c0"/>
<rect x="992" y="633" width="1" height="38" fill="#c0c0c0"/>
<rect x="1000" y="629" width="1" height="42" fill="#c0c0c0"/>
<rect x="1008" y="624" width="1" height="47" fill="#c0c0c0"/>
<rect x="1016" y="621" width="1" height="50" fill="#c0c0c0"/>
<rect x="1024" y="619" width="1" height="52" fill="#c0c0c0"/>
<rect x="1032" y="620" width="1" height="51" fill="#c0c0c0"/>
<rect x="1040" y="620" width="1" height="51" fill="#c0c0c0"/>
<rect x="1048" y="629" width="1" height="42" fill="#c0c0c0"/>
<rect x="1056" y="639" width="1" height="32" fill="#c0c0c0"/>
<rect x="1064" y="647" width="1" height="24" fill="#c0c0c0"/>
<rect x="1072" y="654" width="1" height="17" fill="#c0c0c0"/>
<rect x="1080" y="659" width="1" height="12" fill="#c0c0c0"/>
<rect x="1088" y="661" width="1" height="10" fill="#c0c0c0"/>
<rect x="1096" y="666" width="1" height="5" fill="#c0c0c0"/>
<rect x="1104" y="670" width="1" height="2" fill="#c0c0c0"/>
<rect x="1112" y="670" width="1" height="10" fill="#c0c0c0"/>
<rect x="1120" y="670" width="1" height="13" fill="#c0c0c0"/>
<rect x="1128" y="670" width="1" height="11" fill="#c0c0c0"/>
<rect x="1136" y="670" width="1" height="7" fill="#c0c0c0"/>
<rect x="1144" y="670" width="1" height="2" fill="#c0c0c0"/>
<rect x="1160" y="670" width="1" height="2" fill="#c0c0c0"/>
<rect x="1168" y="670" width="1" height="2" fill="#c0c0c0"/>
<rect x="1176" y="670" width="1" height="2" fill="#c0c0c0"/>
<rect x="1184" y="670" width="1" height="6" fill="#c0c0c0"/>
<rect x="1192" y="670" width="1" height="5" fill="#c0c0c0"/>
<rect x="1200" y="670" width="1" height="4" fill="#c0c0c0"/>
<rect x="1216" y="668" width="1" height="3" fill="#c0c0c0"/>
<rect x="1224" y="665" width="1" height="6" fill="#c0c0c0"/>
<rect x="1232" y="665" width="1" height="6" fill="#c0c0c0"/>
<rect x="1240" y="665" width="1" height="6" fill="#c0c0c0"/>
<rect x="1248" y="669" width="1" height="2" fill="#c0c0c0"/>
<rect x="1264" y="670" width="1" height="2" fill="#c0c0c0"/>
<rect x="1272" y="670" width="1" height="7" fill="#c0c0c0"/>
<rect x="1280" y="670" width="1" height="10" fill="#c0c0c0"/>
<rect x="1288" y="670" width="1" height="16" fill="#c0c0c0"/>
<rect x="1296" y="670" width="1" height="19" fill="#c0c0c0"/>
<rect x="1304" y="670" width="1" height="21" fill="#c0c0c0"/>
<rect x="1312" y="670" width="1" height="21" fill="#c0c0c0"/>
<rect x="1320" y="670" width="1" height="17" fill="#c0c0c0"/>
<rect x="1328" y="670" width="1" height="14" fill="#c0c0c0"/>
<rect x="1336" y="670" width="1" height="11" fill="#c0c0c0"/>
<rect x="1344" y="670" width="1" height="7" fill="#c0c0c0"/>
<rect x="1352" y="670" width="1" height="5" fill="#c0c0c0"/>
<rect x="1360" y="670" width="1" height="6" fill="#c0c0c0"/>
<rect x="1368" y="670" width="1" height="10" fill="#c0c0c0"/>
<rect x="1376" y="670" width="1" height="17" fill="#c0c0c0"/>
<rect x="1384" y="670" width="1" height="23" fill="#c0c0c0"/>
<rect x="1392" y="670" width="1" height="29" fill="#c0c0c0"/>
<rect x="1400" y="670" width="1" height="33" fill="#c0c0c0"/>
<rect x="1408" y="670" width="1" height="41" fill="#c0c0c0"/>
<rect x="1416" y="670" width="1" height="47" fill="#c0c0c0"/>
<rect x="1424" y="670" width="1" height="55" fill="#c0c0c0"/>
<rect x="1432" y="670" width="1" height="61" fill="#c0c0c0"/>
<polyline points="0.5,644.0 2.4,645.0 4.8,646.3 7.7,647.9 11.0,649.7 14.4,651.5 17.9,653.4 21.3,655.3 24.5,657.1 27.5,658.8 30.5,660.5 33.5,662.3 36.5,664.0 39.5,665.8 42.5,667.6 45.5,669.5 48.5,671.5 51.5,673.6 54.5,675.8 57.5,678.0 60.5,680.3 63.5,682.6 66.5,684.9 69.5,687.2 72.5,689.4 75.6,691.6 78.8,694.0 82.1,696.4 85.3,698.7 88.5,700.9 91.4,703.0 94.1,704.7 96.5,706.1 98.5,707.1 100.1,707.8 101.5,708.3 102.8,708.5 103.9,708.6 105.0,708.6 106.2,708.5 107.5,708.5 108.9,708.5 110.1,708.6 111.4,708.6 112.7,708.6 114.1,708.3 115.6,707.9 117.4,707.2 119.5,706.1 121.9,704.6 124.7,702.8 127.6,700.6 130.8,698.3 134.0,695.8 137.2,693.2 140.4,690.7 143.5,688.2 146.5,685.7 149.6,683.1 152.7,680.4 155.8,677.6 158.9,675.0 161.9,672.4 164.7,670.0 167.5,667.9 170.1,666.0 172.7,664.2 175.2,662.6 177.6,661.1 180.0,659.7 182.2,658.6 184.4,657.5 186.5,656.7 188.5,656.1 190.3,655.6 192.1,655.4 193.8,655.3 195.4,655.3 197.0,655.5 198.7,655.7 200.5,655.9 202.3,656.2 204.0,656.5 205.7,656.9 207.4,657.4 209.2,658.0 211.1,658.8 213.2,659.7 215.5,660.7 218.1,661.9 220.9,663.3 223.8,664.9 226.9,666.6 230.1,668.3 233.3,670.2 236.4,672.0 239.5,673.9 242.5,675.9 245.5,678.1 248.5,680.4 251.5,682.7 254.5,685.0 257.5,687.1 260.5,689.0 263.5,690.5 266.5,691.7 269.5,692.7 272.5,693.4 275.6,694.0 278.6,694.5 281.6,694.8 284.5,695.1 287.5,695.4 290.4,695.6 293.3,695.6 296.2,695.6 299.0,695.5 301.8,695.3 304.7,695.1 307.6,695.0 310.5,694.9 313.5,694.9 316.4,694.8 319.4,694.7 322.4,694.7 325.5,694.7 328.5,694.7 331.5,694.8 334.5,694.9 337.5,695.1 340.5,695.3 343.5,695.5 346.5,695.8 349.5,696.1 352.5,696.5 355.5,697.1 358.5,697.7 361.5,698.5 364.6,699.5 367.8,700.7 370.9,701.9 373.9,703.1 376.9,704.2 379.8,705.2 382.5,706.1 385.0,706.8 387.3,707.3 389.4,707.8 391.5,708.2 393.6,708.5 395.7,708.9 398.0,709.3 400.5,709.7 403.2,710.2 406.1,710.7 409.1,711.2 412.1,711.7 415.2,712.2 418.4,712.8 421.5,713.2 424.5,713.7 427.5,714.1 430.5,714.5 433.5,714.8 436.5,715.1 439.5,715.5 442.5,715.8 445.5,716.3 448.5,716.8 451.5,717.4 454.5,718.1 457.5,718.8 460.5,719.6 463.5,720.4 466.5,721.2 469.5,722.0 472.5,722.8 475.5,723.6 478.5,724.4 481.5,725.2 484.6,725.9 487.6,726.7 490.6,727.5 493.5,728.2 496.5,728.8 499.4,729.3 502.3,729.8 505.2,730.1 508.0,730.5 510.8,730.8 513.7,731.2 516.6,731.7 519.5,732.4 522.5,733.2 525.4,734.2 528.4,735.3 531.4,736.5 534.5,737.7 537.5,738.8 540.5,739.8 543.5,740.7 546.5,741.5 549.5,742.2 552.5,742.8 555.5,743.4 558.5,743.9 561.5,744.4 564.5,744.7 567.5,745.0 570.5,745.3 573.5,745.6 576.5,745.8 579.5,746.0 582.5,746.0 585.5,745.7 588.5,745.2 591.5,744.3 594.5,743.0 597.5,741.3 600.5,739.4 603.5,737.2 606.5,734.8 609.5,732.4 612.5,730.0 615.5,727.6 618.5,725.2 621.5,722.8 624.5,720.3 627.5,717.8 630.5,715.2 633.5,712.5 636.5,709.9 639.5,707.3 642.5,704.7 645.5,702.1 648.5,699.5 651.5,696.9 654.5,694.3 657.5,691.5 660.5,688.7 663.5,685.8 666.5,682.7 669.5,679.4 672.5,676.1 675.6,672.6 678.6,669.2 681.6,665.8 684.5,662.6 687.5,659.5 690.4,656.5 693.3,653.5 696.2,650.6 699.0,647.8 701.8,645.1 704.7,642.5 707.6,640.1 710.5,638.0 713.5,636.1 716.5,634.3 719.6,632.8 722.8,631.4 725.8,630.1 728.8,629.1 731.7,628.1 734.5,627.3 737.1,626.7 739.6,626.2 742.1,625.9 744.4,625.7 746.7,625.7 749.0,625.8 751.3,625.9 753.5,626.1 755.6,626.4 757.6,626.7 759.5,627.1 761.3,627.7 763.3,628.3 765.4,629.1 767.8,629.9 770.5,630.9 773.8,632.1 777.6,633.6 781.7,635.2 785.9,636.9 790.1,638.6 794.1,640.2 797.6,641.6 800.5,642.8 802.7,643.7 804.3,644.3 805.5,644.8 806.5,645.2 807.3,645.6 808.2,646.0 809.2,646.5 810.5,647.1 812.1,647.9 813.7,648.9 815.5,650.0 817.2,651.0 819.1,652.1 820.9,653.1 822.7,654.0 824.5,654.8 826.2,655.4 827.9,655.9 829.5,656.4 831.2,656.7 832.9,657.0 834.6,657.2 836.5,657.4 838.5,657.6 840.6,657.7 842.9,657.8 845.3,657.8 847.7,657.8 850.2,657.7 852.6,657.6 855.1,657.4 857.5,657.1 859.9,656.7 862.2,656.3 864.6,655.9 866.9,655.3 869.3,654.7 871.7,654.0 874.1,653.3 876.5,652.4 879.0,651.5 881.5,650.4 884.0,649.3 886.5,648.0 889.0,646.8 891.5,645.5 894.0,644.1 896.5,642.8 898.9,641.4 901.3,640.1 903.7,638.6 906.1,637.2 908.4,635.7 910.8,634.1 913.1,632.5 915.5,630.9 917.9,629.2 920.2,627.3 922.6,625.4 925.0,623.5 927.4,621.5 929.8,619.6 932.1,617.8 934.5,616.1 936.9,614.4 939.4,612.8 941.8,611.1 944.3,609.5 946.7,608.0 949.1,606.7 951.4,605.5 953.5,604.6 955.5,603.9 957.4,603.4 959.1,603.0 960.8,602.8 962.5,602.7 964.1,602.7 965.8,602.8 967.5,602.9 969.2,603.1 970.8,603.4 972.3,603.8 973.9,604.2 975.5,604.8 977.3,605.5 979.3,606.2 981.5,607.0 984.0,607.9 986.8,609.0 989.8,610.3 992.9,611.6 996.1,612.9 999.3,614.2 1002.4,615.4 1005.5,616.5 1008.5,617.5 1011.4,618.6 1014.3,619.6 1017.2,620.6 1020.1,621.5 1023.1,622.3 1026.3,623.1 1029.5,623.7 1033.0,624.2 1036.8,624.5 1040.7,624.7 1044.6,624.9 1048.5,625.0 1052.2,625.1 1055.6,625.3 1058.5,625.6 1060.9,625.9 1062.9,626.2 1064.6,626.4 1066.1,626.7 1067.5,627.1 1069.0,627.6 1070.6,628.2 1072.5,629.0 1074.6,630.0 1076.9,631.2 1079.3,632.6 1081.7,634.0 1084.2,635.6 1086.6,637.2 1089.1,638.8 1091.5,640.4 1093.8,642.0 1096.1,643.8 1098.4,645.5 1100.7,647.3 1103.0,649.2 1105.4,651.1 1107.9,652.9 1110.5,654.8 1113.3,656.8 1116.1,658.8 1119.1,661.0 1122.2,663.1 1125.3,665.2 1128.4,667.1 1131.5,668.8 1134.5,670.3 1137.5,671.5 1140.4,672.5 1143.3,673.3 1146.2,674.0 1149.2,674.6 1152.2,675.0 1155.3,675.4 1158.5,675.8 1161.8,676.1 1165.3,676.2 1168.9,676.3 1172.5,676.3 1176.1,676.2 1179.7,676.1 1183.2,675.9 1186.5,675.8 1189.7,675.7 1192.8,675.5 1195.8,675.3 1198.8,675.0 1201.7,674.8 1204.6,674.5 1207.5,674.2 1210.5,673.9 1213.5,673.6 1216.5,673.2 1219.5,672.8 1222.5,672.3 1225.5,671.9 1228.5,671.5 1231.5,671.1 1234.5,670.8 1237.5,670.5 1240.6,670.2 1243.7,670.0 1246.8,669.8 1249.9,669.6 1252.9,669.4 1255.7,669.2 1258.5,669.1 1261.1,669.0 1263.7,668.9 1266.2,668.8 1268.6,668.8 1271.0,668.8 1273.2,668.8 1275.4,668.9 1277.5,669.1 1279.5,669.4 1281.4,669.7 1283.1,670.1 1284.8,670.5 1286.5,671.0 1288.1,671.6 1289.8,672.1 1291.5,672.7 1293.2,673.3 1294.9,674.0 1296.5,674.8 1298.2,675.6 1299.9,676.4 1301.6,677.1 1303.5,677.9 1305.5,678.6 1307.6,679.3 1309.7,680.0 1311.8,680.6 1314.1,681.3 1316.4,681.9 1318.9,682.5 1321.6,683.0 1324.5,683.4 1327.7,683.7 1331.3,684.0 1335.1,684.3 1339.0,684.4 1342.9,684.6 1346.7,684.6 1350.3,684.6 1353.5,684.6 1356.4,684.5 1359.0,684.2 1361.5,683.8 1363.9,683.4 1366.1,683.0 1368.3,682.7 1370.4,682.4 1372.5,682.2 1374.5,682.1 1376.4,682.1 1378.2,682.1 1380.0,682.1 1381.8,682.3 1383.6,682.4 1385.5,682.6 1387.5,682.9 1389.7,683.2 1392.1,683.6 1394.6,684.1 1397.2,684.5 1399.7,685.1 1402.1,685.7 1404.4,686.3 1406.5,687.0 1408.3,687.7 1410.0,688.6 1411.5,689.4 1412.9,690.4 1414.3,691.3 1415.7,692.3 1417.0,693.3 1418.5,694.2 1420.1,695.2 1421.8,696.3 1423.5,697.4 1425.2,698.6 1426.9,699.6 1428.3,700.6 1429.6,701.4 1430.5,702.0" fill="none" stroke="#ff0000" stroke-width="1" stroke-dasharray="3,2" shape-rendering="crispEdges"/>
</g>
<text x="4.5" y="597" font-size="10" fill="#000" stroke="#000" stroke-width="0.3" font-weight="normal" text-anchor="start" textLength="133.5" lengthAdjust="spacingAndGlyphs" >MACD(12,26,9) -1.1395 -0.6576</text>
<rect x="1629" y="586" width="3" height="1" fill="#000"/>
<text x="1632.3" y="595" font-size="10" fill="#000" stroke="#000" stroke-width="0.3" font-weight="normal" text-anchor="start" textLength="22.4" lengthAdjust="spacingAndGlyphs" >1.628</text>
<rect x="1629" y="670" width="3" height="1" fill="#000"/>
<text x="1632.3" y="674" font-size="10" fill="#000" stroke="#000" stroke-width="0.3" font-weight="normal" text-anchor="start" textLength="17.5" lengthAdjust="spacingAndGlyphs" >0.00</text>
<rect x="1629" y="766" width="3" height="1" fill="#000"/>
<text x="1632.3" y="764" font-size="10" fill="#000" stroke="#000" stroke-width="0.3" font-weight="normal" text-anchor="start" textLength="30.9" lengthAdjust="spacingAndGlyphs" >-1.8503</text>
<g clip-path="url(#crsi)">
<line x1="0" y1="802.5" x2="1628" y2="802.5" stroke="#b4b4b4" stroke-width="1" stroke-dasharray="3,3" stroke-dashoffset="-1" shape-rendering="crispEdges"/>
<line x1="0" y1="849.5" x2="1628" y2="849.5" stroke="#b4b4b4" stroke-width="1" stroke-dasharray="3,3" stroke-dashoffset="-1" shape-rendering="crispEdges"/>
<line x1="0" y1="905.5" x2="1628" y2="905.5" stroke="#b4b4b4" stroke-width="1" stroke-dasharray="3,3" stroke-dashoffset="-1" shape-rendering="crispEdges"/>
<polyline points="0.5,861.7 8.5,853.1 16.5,854.0 24.5,859.0 32.5,861.7 40.5,872.9 48.5,874.8 56.5,877.7 64.5,876.5 72.5,873.8 80.5,874.6 88.5,870.0 96.5,844.2 104.5,841.8 112.5,839.5 120.5,833.0 128.5,828.7 136.5,825.8 144.5,827.5 152.5,841.1 160.5,845.4 168.5,855.5 176.5,841.1 184.5,845.4 192.5,862.6 200.5,863.8 208.5,865.0 216.5,865.0 224.5,867.6 232.5,865.0 240.5,855.0 248.5,861.7 256.5,860.7 264.5,853.8 272.5,856.6 280.5,852.6 288.5,856.6 296.5,859.0 304.5,855.7 312.5,859.3 320.5,869.3 328.5,864.5 336.5,861.7 344.5,865.0 352.5,868.1 360.5,875.3 368.5,878.9 376.5,863.3 384.5,855.7 392.5,864.5 400.5,862.6 408.5,865.7 416.5,864.5 424.5,868.1 432.5,875.3 440.5,877.7 448.5,878.9 456.5,880.5 464.5,880.8 472.5,871.7 480.5,875.3 488.5,875.8 496.5,877.7 504.5,878.9 512.5,877.7 520.5,903.9 528.5,886.0 536.5,865.7 544.5,866.9 552.5,860.9 560.5,862.6 568.5,863.3 576.5,865.7 584.5,855.0 592.5,855.0 600.5,854.5 608.5,850.2 616.5,844.9 624.5,835.9 632.5,839.5 640.5,842.6 648.5,839.5 656.5,836.4 664.5,826.8 672.5,823.5 680.5,819.2 688.5,820.8 696.5,828.7 704.5,836.4 712.5,838.7 720.5,840.6 728.5,835.9 736.5,837.5 744.5,836.6 752.5,846.6 760.5,848.5 768.5,850.2 776.5,851.9 784.5,850.7 792.5,851.9 800.5,845.9 808.5,844.2 816.5,858.6 824.5,847.3 832.5,843.5 840.5,840.6 848.5,826.8 856.5,826.8 864.5,828.0 872.5,825.8 880.5,824.6 888.5,816.3 896.5,810.8 904.5,806.5 912.5,804.8 920.5,804.8 928.5,802.4 936.5,818.7 944.5,820.4 952.5,821.5 960.5,837.1 968.5,855.5 976.5,859.0 984.5,832.3 992.5,849.0 1000.5,834.7 1008.5,833.0 1016.5,834.0 1024.5,831.8 1032.5,836.6 1040.5,837.1 1048.5,850.7 1056.5,855.5 1064.5,855.5 1072.5,855.5 1080.5,855.5 1088.5,849.7 1096.5,854.5 1104.5,863.3 1112.5,865.7 1120.5,860.9 1128.5,851.4 1136.5,846.6 1144.5,840.6 1152.5,847.8 1160.5,852.1 1168.5,850.7 1176.5,851.4 1184.5,856.9 1192.5,853.8 1200.5,850.2 1208.5,840.6 1216.5,840.6 1224.5,840.6 1232.5,847.8 1240.5,847.8 1248.5,856.9 1256.5,855.7 1264.5,856.9 1272.5,863.8 1280.5,863.8 1288.5,872.9 1296.5,865.7 1304.5,866.9 1312.5,862.1 1320.5,849.0 1328.5,847.8 1336.5,849.5 1344.5,837.8 1352.5,849.0 1360.5,853.8 1368.5,865.2 1376.5,872.9 1384.5,874.6 1392.5,873.6 1400.5,876.5 1408.5,884.8 1416.5,883.6 1424.5,889.1 1432.5,889.6" fill="none" stroke="#1e90ff" stroke-width="1" shape-rendering="crispEdges"/>
</g>
<text x="4.5" y="782" font-size="10" fill="#000" stroke="#000" stroke-width="0.3" font-weight="normal" text-anchor="start" textLength="67.0" lengthAdjust="spacingAndGlyphs" >RSI(14) 24.8255</text>
<rect x="1629" y="771" width="3" height="1" fill="#000"/>
<text x="1632" y="780" font-size="10" fill="#000" stroke="#000" stroke-width="0.3" font-weight="normal" text-anchor="start" textLength="14.1" lengthAdjust="spacingAndGlyphs" >100</text>
<rect x="1629" y="802" width="3" height="1" fill="#000"/>
<text x="1632" y="806" font-size="10" fill="#000" stroke="#000" stroke-width="0.3" font-weight="normal" text-anchor="start" textLength="9.6" lengthAdjust="spacingAndGlyphs" >80</text>
<rect x="1629" y="849" width="3" height="1" fill="#000"/>
<text x="1632" y="853" font-size="10" fill="#000" stroke="#000" stroke-width="0.3" font-weight="normal" text-anchor="start" textLength="9.6" lengthAdjust="spacingAndGlyphs" >50</text>
<rect x="1629" y="905" width="3" height="1" fill="#000"/>
<text x="1632" y="909" font-size="10" fill="#000" stroke="#000" stroke-width="0.3" font-weight="normal" text-anchor="start" textLength="9.6" lengthAdjust="spacingAndGlyphs" >15</text>
<rect x="1629" y="928" width="3" height="1" fill="#000"/>
<text x="1632" y="926" font-size="10" fill="#000" stroke="#000" stroke-width="0.3" font-weight="normal" text-anchor="start" textLength="4.8" lengthAdjust="spacingAndGlyphs" >0</text>
<rect x="0" y="930" width="1" height="3" fill="#000"/>
<text x="0" y="942" font-size="10" fill="#000" stroke="#000" stroke-width="0.3" font-weight="normal" text-anchor="start" textLength="50.2" lengthAdjust="spacingAndGlyphs" >18 Oct 2018</text>
<rect x="64" y="930" width="1" height="3" fill="#000"/>
<text x="64" y="942" font-size="10" fill="#000" stroke="#000" stroke-width="0.3" font-weight="normal" text-anchor="start" textLength="50.2" lengthAdjust="spacingAndGlyphs" >28 Oct 2018</text>
<rect x="128" y="930" width="1" height="3" fill="#000"/>
<text x="128" y="942" font-size="10" fill="#000" stroke="#000" stroke-width="0.3" font-weight="normal" text-anchor="start" textLength="47.1" lengthAdjust="spacingAndGlyphs" >6 Nov 2018</text>
<rect x="192" y="930" width="1" height="3" fill="#000"/>
<text x="192" y="942" font-size="10" fill="#000" stroke="#000" stroke-width="0.3" font-weight="normal" text-anchor="start" textLength="52.2" lengthAdjust="spacingAndGlyphs" >15 Nov 2018</text>
<rect x="256" y="930" width="1" height="3" fill="#000"/>
<text x="256" y="942" font-size="10" fill="#000" stroke="#000" stroke-width="0.3" font-weight="normal" text-anchor="start" textLength="52.2" lengthAdjust="spacingAndGlyphs" >25 Nov 2018</text>
<rect x="320" y="930" width="1" height="3" fill="#000"/>
<text x="320" y="942" font-size="10" fill="#000" stroke="#000" stroke-width="0.3" font-weight="normal" text-anchor="start" textLength="47.1" lengthAdjust="spacingAndGlyphs" >4 Dec 2018</text>
<rect x="384" y="930" width="1" height="3" fill="#000"/>
<text x="384" y="942" font-size="10" fill="#000" stroke="#000" stroke-width="0.3" font-weight="normal" text-anchor="start" textLength="52.2" lengthAdjust="spacingAndGlyphs" >13 Dec 2018</text>
<rect x="448" y="930" width="1" height="3" fill="#000"/>
<text x="448" y="942" font-size="10" fill="#000" stroke="#000" stroke-width="0.3" font-weight="normal" text-anchor="start" textLength="52.2" lengthAdjust="spacingAndGlyphs" >23 Dec 2018</text>
<rect x="512" y="930" width="1" height="3" fill="#000"/>
<text x="512" y="942" font-size="10" fill="#000" stroke="#000" stroke-width="0.3" font-weight="normal" text-anchor="start" textLength="45.6" lengthAdjust="spacingAndGlyphs" >1 Jan 2019</text>
<rect x="576" y="930" width="1" height="3" fill="#000"/>
<text x="576" y="942" font-size="10" fill="#000" stroke="#000" stroke-width="0.3" font-weight="normal" text-anchor="start" textLength="50.7" lengthAdjust="spacingAndGlyphs" >10 Jan 2019</text>
<rect x="640" y="930" width="1" height="3" fill="#000"/>
<text x="640" y="942" font-size="10" fill="#000" stroke="#000" stroke-width="0.3" font-weight="normal" text-anchor="start" textLength="50.7" lengthAdjust="spacingAndGlyphs" >20 Jan 2019</text>
<rect x="704" y="930" width="1" height="3" fill="#000"/>
<text x="704" y="942" font-size="10" fill="#000" stroke="#000" stroke-width="0.3" font-weight="normal" text-anchor="start" textLength="50.7" lengthAdjust="spacingAndGlyphs" >29 Jan 2019</text>
<rect x="768" y="930" width="1" height="3" fill="#000"/>
<text x="768" y="942" font-size="10" fill="#000" stroke="#000" stroke-width="0.3" font-weight="normal" text-anchor="start" textLength="46.6" lengthAdjust="spacingAndGlyphs" >7 Feb 2019</text>
<rect x="832" y="930" width="1" height="3" fill="#000"/>
<text x="832" y="942" font-size="10" fill="#000" stroke="#000" stroke-width="0.3" font-weight="normal" text-anchor="start" textLength="51.7" lengthAdjust="spacingAndGlyphs" >17 Feb 2019</text>
<rect x="896" y="930" width="1" height="3" fill="#000"/>
<text x="896" y="942" font-size="10" fill="#000" stroke="#000" stroke-width="0.3" font-weight="normal" text-anchor="start" textLength="51.7" lengthAdjust="spacingAndGlyphs" >26 Feb 2019</text>
<rect x="960" y="930" width="1" height="3" fill="#000"/>
<text x="960" y="942" font-size="10" fill="#000" stroke="#000" stroke-width="0.3" font-weight="normal" text-anchor="start" textLength="46.6" lengthAdjust="spacingAndGlyphs" >7 Mar 2019</text>
<rect x="1024" y="930" width="1" height="3" fill="#000"/>
<text x="1024" y="942" font-size="10" fill="#000" stroke="#000" stroke-width="0.3" font-weight="normal" text-anchor="start" textLength="51.7" lengthAdjust="spacingAndGlyphs" >17 Mar 2019</text>
<rect x="1088" y="930" width="1" height="3" fill="#000"/>
<text x="1088" y="942" font-size="10" fill="#000" stroke="#000" stroke-width="0.3" font-weight="normal" text-anchor="start" textLength="51.7" lengthAdjust="spacingAndGlyphs" >26 Mar 2019</text>
<rect x="1152" y="930" width="1" height="3" fill="#000"/>
<text x="1152" y="942" font-size="10" fill="#000" stroke="#000" stroke-width="0.3" font-weight="normal" text-anchor="start" textLength="44.6" lengthAdjust="spacingAndGlyphs" >4 Apr 2019</text>
<rect x="1216" y="930" width="1" height="3" fill="#000"/>
<text x="1216" y="942" font-size="10" fill="#000" stroke="#000" stroke-width="0.3" font-weight="normal" text-anchor="start" textLength="49.7" lengthAdjust="spacingAndGlyphs" >14 Apr 2019</text>
<rect x="1280" y="930" width="1" height="3" fill="#000"/>
<text x="1280" y="942" font-size="10" fill="#000" stroke="#000" stroke-width="0.3" font-weight="normal" text-anchor="start" textLength="49.7" lengthAdjust="spacingAndGlyphs" >24 Apr 2019</text>
<rect x="1344" y="930" width="1" height="3" fill="#000"/>
<text x="1344" y="942" font-size="10" fill="#000" stroke="#000" stroke-width="0.3" font-weight="normal" text-anchor="start" textLength="48.1" lengthAdjust="spacingAndGlyphs" >3 May 2019</text>
<rect x="1408" y="930" width="1" height="3" fill="#000"/>
<text x="1408" y="942" font-size="10" fill="#000" stroke="#000" stroke-width="0.3" font-weight="normal" text-anchor="start" textLength="53.3" lengthAdjust="spacingAndGlyphs" >13 May 2019</text>
</svg>
</body></html>
